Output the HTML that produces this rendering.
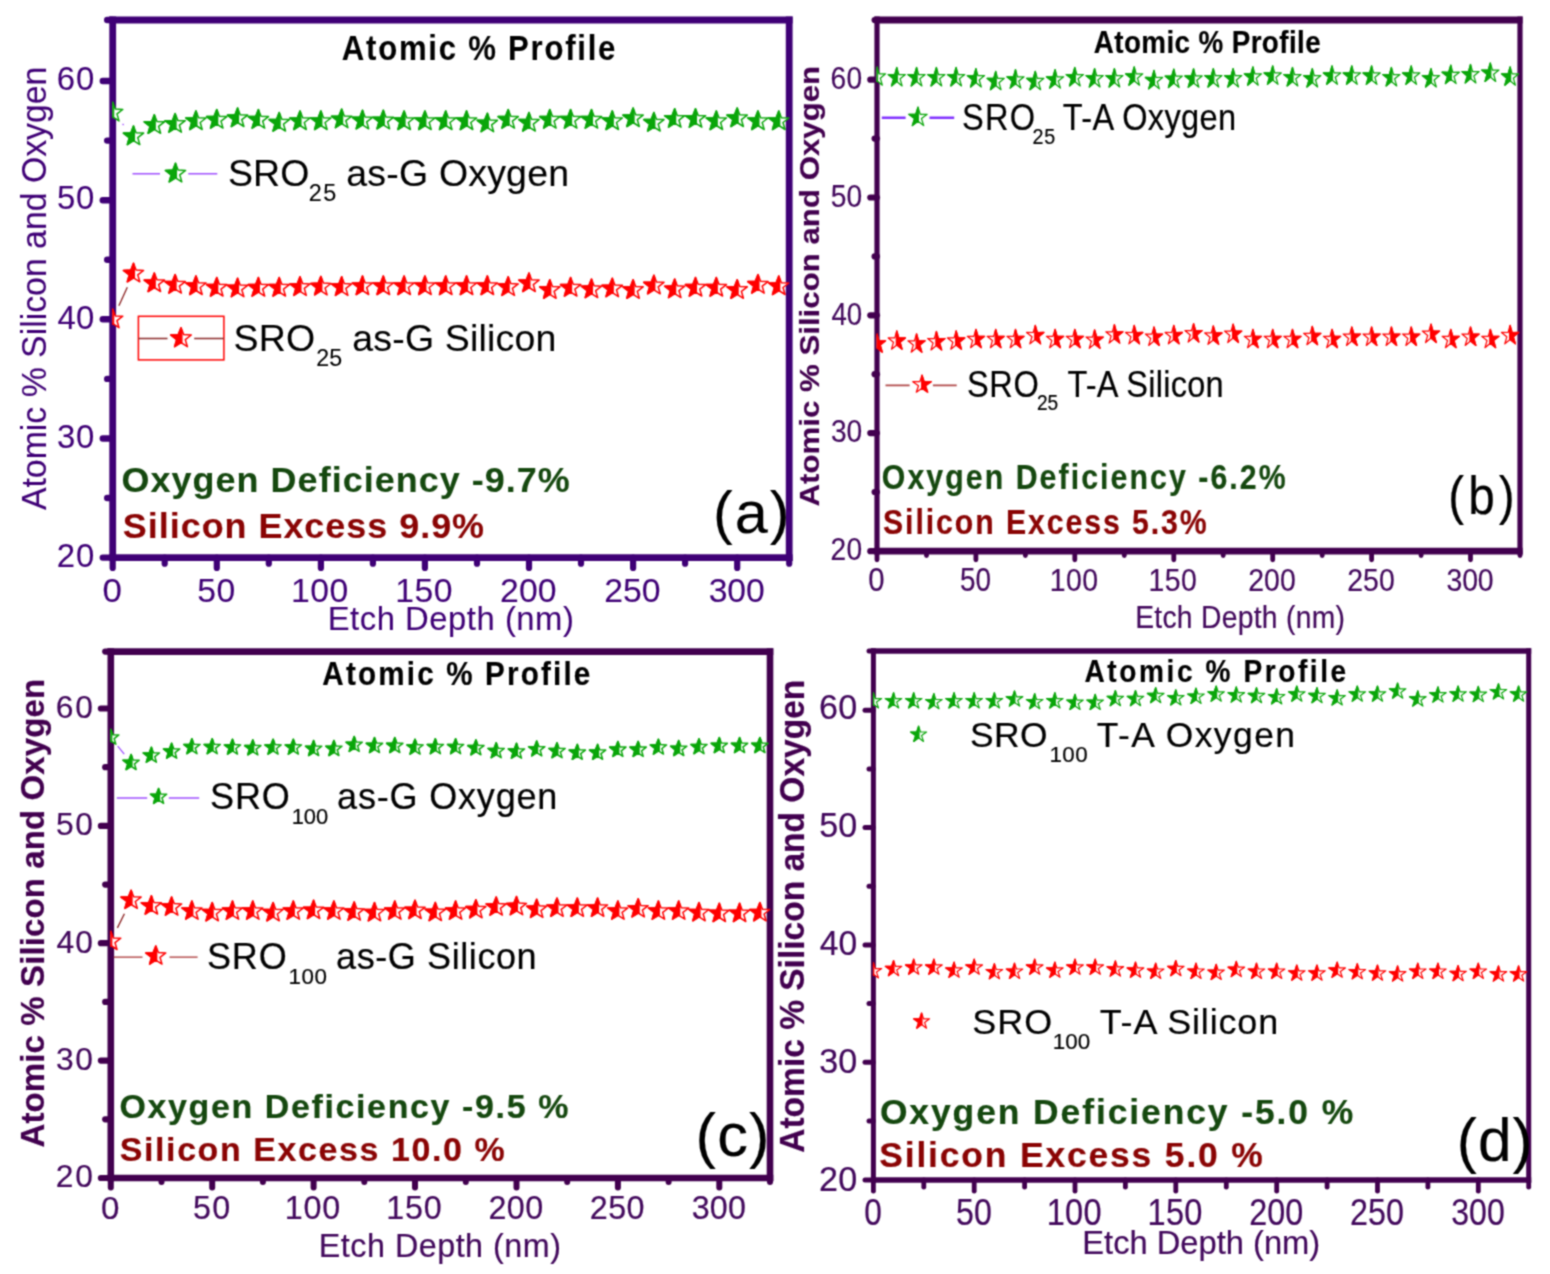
<!DOCTYPE html>
<html lang="en"><head><meta charset="utf-8"><title>Atomic % Profile</title>
<style>html,body{margin:0;padding:0;background:#fff;}body{width:1550px;height:1274px;overflow:hidden;}svg{display:block;}text{font-family:"Liberation Sans",sans-serif;white-space:pre;}</style>
</head><body>
<svg width="1550" height="1274" viewBox="0 0 1550 1274">
<defs><filter id="soft" x="0" y="0" width="1550" height="1274" filterUnits="userSpaceOnUse" color-interpolation-filters="sRGB"><feConvolveMatrix order="3" kernelMatrix="1 2 1 2 6 2 1 2 1" edgeMode="duplicate" preserveAlpha="true"/></filter></defs>
<g filter="url(#soft)">
<rect width="1550" height="1274" fill="#fff"/>
<g id="panel-a">
<g stroke="#3f0076" fill="none" stroke-linecap="round">
<line x1="112.7" y1="557.6" x2="102.8" y2="557.6" stroke-width="6.4"/>
<line x1="112.7" y1="498.0" x2="107.2" y2="498.0" stroke-width="6.4"/>
<line x1="112.7" y1="438.5" x2="102.8" y2="438.5" stroke-width="6.4"/>
<line x1="112.7" y1="378.9" x2="107.2" y2="378.9" stroke-width="6.4"/>
<line x1="112.7" y1="319.3" x2="102.8" y2="319.3" stroke-width="6.4"/>
<line x1="112.7" y1="259.7" x2="107.2" y2="259.7" stroke-width="6.4"/>
<line x1="112.7" y1="200.2" x2="102.8" y2="200.2" stroke-width="6.4"/>
<line x1="112.7" y1="140.6" x2="107.2" y2="140.6" stroke-width="6.4"/>
<line x1="112.7" y1="81.0" x2="102.8" y2="81.0" stroke-width="6.4"/>
<line x1="112.7" y1="20.0" x2="107.2" y2="20.0" stroke-width="6.4"/>
<line x1="112.7" y1="557.6" x2="112.7" y2="567.9" stroke-width="6.2"/>
<line x1="164.7" y1="557.6" x2="164.7" y2="563.7" stroke-width="6.2"/>
<line x1="216.8" y1="557.6" x2="216.8" y2="567.9" stroke-width="6.2"/>
<line x1="268.8" y1="557.6" x2="268.8" y2="563.7" stroke-width="6.2"/>
<line x1="320.9" y1="557.6" x2="320.9" y2="567.9" stroke-width="6.2"/>
<line x1="372.9" y1="557.6" x2="372.9" y2="563.7" stroke-width="6.2"/>
<line x1="424.9" y1="557.6" x2="424.9" y2="567.9" stroke-width="6.2"/>
<line x1="477.0" y1="557.6" x2="477.0" y2="563.7" stroke-width="6.2"/>
<line x1="529.0" y1="557.6" x2="529.0" y2="567.9" stroke-width="6.2"/>
<line x1="581.0" y1="557.6" x2="581.0" y2="563.7" stroke-width="6.2"/>
<line x1="633.1" y1="557.6" x2="633.1" y2="567.9" stroke-width="6.2"/>
<line x1="685.1" y1="557.6" x2="685.1" y2="563.7" stroke-width="6.2"/>
<line x1="737.2" y1="557.6" x2="737.2" y2="567.9" stroke-width="6.2"/>
<line x1="789.2" y1="557.6" x2="789.2" y2="563.7" stroke-width="6.2"/>
</g>
<g stroke="#3f0076" fill="none" stroke-linecap="butt">
<line x1="109.3" y1="20.0" x2="792.6" y2="20.0" stroke-width="6.8"/>
<line x1="109.3" y1="557.6" x2="792.6" y2="557.6" stroke-width="6.8"/>
<line x1="112.7" y1="16.6" x2="112.7" y2="561.0" stroke-width="6.8"/>
<line x1="789.2" y1="16.6" x2="789.2" y2="561.0" stroke-width="6.8"/>
</g>
<clipPath id="clip-a"><rect x="112.2" y="20.0" width="677.5" height="537.6"/></clipPath>
<g clip-path="url(#clip-a)">
<line x1="122.6" y1="123.9" x2="123.6" y2="125.0" stroke="#a050ff" stroke-width="1.3"/>
<path d="M112.7,102.3L115.3,109.1L122.8,109.4L117.0,113.9L119.0,120.9L112.7,116.9L106.4,120.9L108.4,113.9L102.6,109.4L110.1,109.1Z" fill="#fff" stroke="#0aa60a" stroke-width="1.50" stroke-linejoin="round"/><path d="M112.7,102.3L110.1,109.1L102.6,109.4L108.4,113.9L106.4,120.9L112.7,116.9L113.5,116.7L113.5,104.9Z" fill="#0aa60a" stroke="#0aa60a" stroke-width="1.50" stroke-linejoin="round"/>
<path d="M133.5,126.0L136.1,132.8L143.6,133.1L137.8,137.6L139.8,144.6L133.5,140.6L127.3,144.6L129.3,137.6L123.4,133.1L130.9,132.8Z" fill="#fff" stroke="#0aa60a" stroke-width="1.50" stroke-linejoin="round"/><path d="M133.5,126.0L130.9,132.8L123.4,133.1L129.3,137.6L127.3,144.6L133.5,140.6L134.3,140.4L134.3,128.6Z" fill="#0aa60a" stroke="#0aa60a" stroke-width="1.50" stroke-linejoin="round"/>
<path d="M154.3,114.8L157.0,121.5L164.5,121.8L158.6,126.3L160.6,133.3L154.3,129.3L148.1,133.3L150.1,126.3L144.2,121.8L151.7,121.5Z" fill="#fff" stroke="#0aa60a" stroke-width="1.50" stroke-linejoin="round"/><path d="M154.3,114.8L151.7,121.5L144.2,121.8L150.1,126.3L148.1,133.3L154.3,129.3L155.1,129.1L155.1,117.3Z" fill="#0aa60a" stroke="#0aa60a" stroke-width="1.50" stroke-linejoin="round"/>
<path d="M175.1,113.6L177.8,120.4L185.3,120.7L179.4,125.2L181.4,132.2L175.1,128.2L168.9,132.2L170.9,125.2L165.0,120.7L172.5,120.4Z" fill="#fff" stroke="#0aa60a" stroke-width="1.50" stroke-linejoin="round"/><path d="M175.1,113.6L172.5,120.4L165.0,120.7L170.9,125.2L168.9,132.2L175.1,128.2L175.9,128.0L175.9,116.2Z" fill="#0aa60a" stroke="#0aa60a" stroke-width="1.50" stroke-linejoin="round"/>
<path d="M196.0,110.9L198.6,117.7L206.1,118.0L200.2,122.5L202.2,129.5L196.0,125.5L189.7,129.5L191.7,122.5L185.8,118.0L193.3,117.7Z" fill="#fff" stroke="#0aa60a" stroke-width="1.50" stroke-linejoin="round"/><path d="M196.0,110.9L193.3,117.7L185.8,118.0L191.7,122.5L189.7,129.5L196.0,125.5L196.8,125.3L196.8,113.5Z" fill="#0aa60a" stroke="#0aa60a" stroke-width="1.50" stroke-linejoin="round"/>
<path d="M216.8,109.6L219.4,116.3L226.9,116.6L221.0,121.1L223.0,128.1L216.8,124.1L210.5,128.1L212.5,121.1L206.6,116.6L214.1,116.3Z" fill="#fff" stroke="#0aa60a" stroke-width="1.50" stroke-linejoin="round"/><path d="M216.8,109.6L214.1,116.3L206.6,116.6L212.5,121.1L210.5,128.1L216.8,124.1L217.6,123.9L217.6,112.1Z" fill="#0aa60a" stroke="#0aa60a" stroke-width="1.50" stroke-linejoin="round"/>
<path d="M237.6,108.0L240.2,114.8L247.7,115.1L241.8,119.6L243.9,126.5L237.6,122.5L231.3,126.5L233.3,119.6L227.5,115.1L235.0,114.8Z" fill="#fff" stroke="#0aa60a" stroke-width="1.50" stroke-linejoin="round"/><path d="M237.6,108.0L235.0,114.8L227.5,115.1L233.3,119.6L231.3,126.5L237.6,122.5L238.4,122.3L238.4,110.5Z" fill="#0aa60a" stroke="#0aa60a" stroke-width="1.50" stroke-linejoin="round"/>
<path d="M258.4,109.6L261.0,116.3L268.5,116.6L262.7,121.1L264.7,128.1L258.4,124.1L252.1,128.1L254.2,121.1L248.3,116.6L255.8,116.3Z" fill="#fff" stroke="#0aa60a" stroke-width="1.50" stroke-linejoin="round"/><path d="M258.4,109.6L255.8,116.3L248.3,116.6L254.2,121.1L252.1,128.1L258.4,124.1L259.2,123.9L259.2,112.1Z" fill="#0aa60a" stroke="#0aa60a" stroke-width="1.50" stroke-linejoin="round"/>
<path d="M279.2,112.5L281.9,119.3L289.4,119.6L283.5,124.1L285.5,131.0L279.2,127.1L273.0,131.0L275.0,124.1L269.1,119.6L276.6,119.3Z" fill="#fff" stroke="#0aa60a" stroke-width="1.50" stroke-linejoin="round"/><path d="M279.2,112.5L276.6,119.3L269.1,119.6L275.0,124.1L273.0,131.0L279.2,127.1L280.0,126.9L280.0,115.1Z" fill="#0aa60a" stroke="#0aa60a" stroke-width="1.50" stroke-linejoin="round"/>
<path d="M300.0,110.9L302.7,117.7L310.2,118.0L304.3,122.5L306.3,129.5L300.0,125.5L293.8,129.5L295.8,122.5L289.9,118.0L297.4,117.7Z" fill="#fff" stroke="#0aa60a" stroke-width="1.50" stroke-linejoin="round"/><path d="M300.0,110.9L297.4,117.7L289.9,118.0L295.8,122.5L293.8,129.5L300.0,125.5L300.8,125.3L300.8,113.5Z" fill="#0aa60a" stroke="#0aa60a" stroke-width="1.50" stroke-linejoin="round"/>
<path d="M320.9,110.9L323.5,117.7L331.0,118.0L325.1,122.5L327.1,129.5L320.9,125.5L314.6,129.5L316.6,122.5L310.7,118.0L318.2,117.7Z" fill="#fff" stroke="#0aa60a" stroke-width="1.50" stroke-linejoin="round"/><path d="M320.9,110.9L318.2,117.7L310.7,118.0L316.6,122.5L314.6,129.5L320.9,125.5L321.7,125.3L321.7,113.5Z" fill="#0aa60a" stroke="#0aa60a" stroke-width="1.50" stroke-linejoin="round"/>
<path d="M341.7,109.1L344.3,115.9L351.8,116.2L345.9,120.7L347.9,127.7L341.7,123.7L335.4,127.7L337.4,120.7L331.5,116.2L339.0,115.9Z" fill="#fff" stroke="#0aa60a" stroke-width="1.50" stroke-linejoin="round"/><path d="M341.7,109.1L339.0,115.9L331.5,116.2L337.4,120.7L335.4,127.7L341.7,123.7L342.5,123.5L342.5,111.7Z" fill="#0aa60a" stroke="#0aa60a" stroke-width="1.50" stroke-linejoin="round"/>
<path d="M362.5,110.2L365.1,117.0L372.6,117.3L366.7,121.8L368.7,128.8L362.5,124.8L356.2,128.8L358.2,121.8L352.4,117.3L359.9,117.0Z" fill="#fff" stroke="#0aa60a" stroke-width="1.50" stroke-linejoin="round"/><path d="M362.5,110.2L359.9,117.0L352.4,117.3L358.2,121.8L356.2,128.8L362.5,124.8L363.3,124.6L363.3,112.8Z" fill="#0aa60a" stroke="#0aa60a" stroke-width="1.50" stroke-linejoin="round"/>
<path d="M383.3,110.2L385.9,117.0L393.4,117.3L387.6,121.8L389.6,128.8L383.3,124.8L377.0,128.8L379.0,121.8L373.2,117.3L380.7,117.0Z" fill="#fff" stroke="#0aa60a" stroke-width="1.50" stroke-linejoin="round"/><path d="M383.3,110.2L380.7,117.0L373.2,117.3L379.0,121.8L377.0,128.8L383.3,124.8L384.1,124.6L384.1,112.8Z" fill="#0aa60a" stroke="#0aa60a" stroke-width="1.50" stroke-linejoin="round"/>
<path d="M404.1,110.9L406.7,117.7L414.2,118.0L408.4,122.5L410.4,129.5L404.1,125.5L397.9,129.5L399.9,122.5L394.0,118.0L401.5,117.7Z" fill="#fff" stroke="#0aa60a" stroke-width="1.50" stroke-linejoin="round"/><path d="M404.1,110.9L401.5,117.7L394.0,118.0L399.9,122.5L397.9,129.5L404.1,125.5L404.9,125.3L404.9,113.5Z" fill="#0aa60a" stroke="#0aa60a" stroke-width="1.50" stroke-linejoin="round"/>
<path d="M424.9,110.9L427.6,117.7L435.1,118.0L429.2,122.5L431.2,129.5L424.9,125.5L418.7,129.5L420.7,122.5L414.8,118.0L422.3,117.7Z" fill="#fff" stroke="#0aa60a" stroke-width="1.50" stroke-linejoin="round"/><path d="M424.9,110.9L422.3,117.7L414.8,118.0L420.7,122.5L418.7,129.5L424.9,125.5L425.7,125.3L425.7,113.5Z" fill="#0aa60a" stroke="#0aa60a" stroke-width="1.50" stroke-linejoin="round"/>
<path d="M445.7,110.9L448.4,117.7L455.9,118.0L450.0,122.5L452.0,129.5L445.7,125.5L439.5,129.5L441.5,122.5L435.6,118.0L443.1,117.7Z" fill="#fff" stroke="#0aa60a" stroke-width="1.50" stroke-linejoin="round"/><path d="M445.7,110.9L443.1,117.7L435.6,118.0L441.5,122.5L439.5,129.5L445.7,125.5L446.5,125.3L446.5,113.5Z" fill="#0aa60a" stroke="#0aa60a" stroke-width="1.50" stroke-linejoin="round"/>
<path d="M466.6,110.9L469.2,117.7L476.7,118.0L470.8,122.5L472.8,129.5L466.6,125.5L460.3,129.5L462.3,122.5L456.4,118.0L463.9,117.7Z" fill="#fff" stroke="#0aa60a" stroke-width="1.50" stroke-linejoin="round"/><path d="M466.6,110.9L463.9,117.7L456.4,118.0L462.3,122.5L460.3,129.5L466.6,125.5L467.4,125.3L467.4,113.5Z" fill="#0aa60a" stroke="#0aa60a" stroke-width="1.50" stroke-linejoin="round"/>
<path d="M487.4,113.2L490.0,119.9L497.5,120.3L491.6,124.8L493.6,131.7L487.4,127.7L481.1,131.7L483.1,124.8L477.2,120.3L484.7,119.9Z" fill="#fff" stroke="#0aa60a" stroke-width="1.50" stroke-linejoin="round"/><path d="M487.4,113.2L484.7,119.9L477.2,120.3L483.1,124.8L481.1,131.7L487.4,127.7L488.2,127.5L488.2,115.7Z" fill="#0aa60a" stroke="#0aa60a" stroke-width="1.50" stroke-linejoin="round"/>
<path d="M508.2,109.6L510.8,116.3L518.3,116.6L512.4,121.1L514.5,128.1L508.2,124.1L501.9,128.1L503.9,121.1L498.1,116.6L505.6,116.3Z" fill="#fff" stroke="#0aa60a" stroke-width="1.50" stroke-linejoin="round"/><path d="M508.2,109.6L505.6,116.3L498.1,116.6L503.9,121.1L501.9,128.1L508.2,124.1L509.0,123.9L509.0,112.1Z" fill="#0aa60a" stroke="#0aa60a" stroke-width="1.50" stroke-linejoin="round"/>
<path d="M529.0,112.5L531.6,119.3L539.1,119.6L533.3,124.1L535.3,131.0L529.0,127.1L522.7,131.0L524.8,124.1L518.9,119.6L526.4,119.3Z" fill="#fff" stroke="#0aa60a" stroke-width="1.50" stroke-linejoin="round"/><path d="M529.0,112.5L526.4,119.3L518.9,119.6L524.8,124.1L522.7,131.0L529.0,127.1L529.8,126.9L529.8,115.1Z" fill="#0aa60a" stroke="#0aa60a" stroke-width="1.50" stroke-linejoin="round"/>
<path d="M549.8,109.6L552.5,116.3L560.0,116.6L554.1,121.1L556.1,128.1L549.8,124.1L543.6,128.1L545.6,121.1L539.7,116.6L547.2,116.3Z" fill="#fff" stroke="#0aa60a" stroke-width="1.50" stroke-linejoin="round"/><path d="M549.8,109.6L547.2,116.3L539.7,116.6L545.6,121.1L543.6,128.1L549.8,124.1L550.6,123.9L550.6,112.1Z" fill="#0aa60a" stroke="#0aa60a" stroke-width="1.50" stroke-linejoin="round"/>
<path d="M570.6,109.6L573.3,116.3L580.8,116.6L574.9,121.1L576.9,128.1L570.6,124.1L564.4,128.1L566.4,121.1L560.5,116.6L568.0,116.3Z" fill="#fff" stroke="#0aa60a" stroke-width="1.50" stroke-linejoin="round"/><path d="M570.6,109.6L568.0,116.3L560.5,116.6L566.4,121.1L564.4,128.1L570.6,124.1L571.4,123.9L571.4,112.1Z" fill="#0aa60a" stroke="#0aa60a" stroke-width="1.50" stroke-linejoin="round"/>
<path d="M591.5,109.6L594.1,116.3L601.6,116.6L595.7,121.1L597.7,128.1L591.5,124.1L585.2,128.1L587.2,121.1L581.3,116.6L588.8,116.3Z" fill="#fff" stroke="#0aa60a" stroke-width="1.50" stroke-linejoin="round"/><path d="M591.5,109.6L588.8,116.3L581.3,116.6L587.2,121.1L585.2,128.1L591.5,124.1L592.3,123.9L592.3,112.1Z" fill="#0aa60a" stroke="#0aa60a" stroke-width="1.50" stroke-linejoin="round"/>
<path d="M612.3,110.9L614.9,117.7L622.4,118.0L616.5,122.5L618.5,129.5L612.3,125.5L606.0,129.5L608.0,122.5L602.1,118.0L609.6,117.7Z" fill="#fff" stroke="#0aa60a" stroke-width="1.50" stroke-linejoin="round"/><path d="M612.3,110.9L609.6,117.7L602.1,118.0L608.0,122.5L606.0,129.5L612.3,125.5L613.1,125.3L613.1,113.5Z" fill="#0aa60a" stroke="#0aa60a" stroke-width="1.50" stroke-linejoin="round"/>
<path d="M633.1,108.0L635.7,114.8L643.2,115.1L637.3,119.6L639.3,126.5L633.1,122.5L626.8,126.5L628.8,119.6L623.0,115.1L630.5,114.8Z" fill="#fff" stroke="#0aa60a" stroke-width="1.50" stroke-linejoin="round"/><path d="M633.1,108.0L630.5,114.8L623.0,115.1L628.8,119.6L626.8,126.5L633.1,122.5L633.9,122.3L633.9,110.5Z" fill="#0aa60a" stroke="#0aa60a" stroke-width="1.50" stroke-linejoin="round"/>
<path d="M653.9,112.5L656.5,119.3L664.0,119.6L658.2,124.1L660.2,131.0L653.9,127.1L647.6,131.0L649.6,124.1L643.8,119.6L651.3,119.3Z" fill="#fff" stroke="#0aa60a" stroke-width="1.50" stroke-linejoin="round"/><path d="M653.9,112.5L651.3,119.3L643.8,119.6L649.6,124.1L647.6,131.0L653.9,127.1L654.7,126.9L654.7,115.1Z" fill="#0aa60a" stroke="#0aa60a" stroke-width="1.50" stroke-linejoin="round"/>
<path d="M674.7,108.7L677.3,115.4L684.8,115.7L679.0,120.2L681.0,127.2L674.7,123.2L668.5,127.2L670.5,120.2L664.6,115.7L672.1,115.4Z" fill="#fff" stroke="#0aa60a" stroke-width="1.50" stroke-linejoin="round"/><path d="M674.7,108.7L672.1,115.4L664.6,115.7L670.5,120.2L668.5,127.2L674.7,123.2L675.5,123.0L675.5,111.2Z" fill="#0aa60a" stroke="#0aa60a" stroke-width="1.50" stroke-linejoin="round"/>
<path d="M695.5,108.7L698.2,115.4L705.7,115.7L699.8,120.2L701.8,127.2L695.5,123.2L689.3,127.2L691.3,120.2L685.4,115.7L692.9,115.4Z" fill="#fff" stroke="#0aa60a" stroke-width="1.50" stroke-linejoin="round"/><path d="M695.5,108.7L692.9,115.4L685.4,115.7L691.3,120.2L689.3,127.2L695.5,123.2L696.3,123.0L696.3,111.2Z" fill="#0aa60a" stroke="#0aa60a" stroke-width="1.50" stroke-linejoin="round"/>
<path d="M716.3,110.9L719.0,117.7L726.5,118.0L720.6,122.5L722.6,129.5L716.3,125.5L710.1,129.5L712.1,122.5L706.2,118.0L713.7,117.7Z" fill="#fff" stroke="#0aa60a" stroke-width="1.50" stroke-linejoin="round"/><path d="M716.3,110.9L713.7,117.7L706.2,118.0L712.1,122.5L710.1,129.5L716.3,125.5L717.1,125.3L717.1,113.5Z" fill="#0aa60a" stroke="#0aa60a" stroke-width="1.50" stroke-linejoin="round"/>
<path d="M737.2,108.0L739.8,114.8L747.3,115.1L741.4,119.6L743.4,126.5L737.2,122.5L730.9,126.5L732.9,119.6L727.0,115.1L734.5,114.8Z" fill="#fff" stroke="#0aa60a" stroke-width="1.50" stroke-linejoin="round"/><path d="M737.2,108.0L734.5,114.8L727.0,115.1L732.9,119.6L730.9,126.5L737.2,122.5L738.0,122.3L738.0,110.5Z" fill="#0aa60a" stroke="#0aa60a" stroke-width="1.50" stroke-linejoin="round"/>
<path d="M758.0,110.9L760.6,117.7L768.1,118.0L762.2,122.5L764.2,129.5L758.0,125.5L751.7,129.5L753.7,122.5L747.8,118.0L755.3,117.7Z" fill="#fff" stroke="#0aa60a" stroke-width="1.50" stroke-linejoin="round"/><path d="M758.0,110.9L755.3,117.7L747.8,118.0L753.7,122.5L751.7,129.5L758.0,125.5L758.8,125.3L758.8,113.5Z" fill="#0aa60a" stroke="#0aa60a" stroke-width="1.50" stroke-linejoin="round"/>
<path d="M778.8,110.9L781.4,117.7L788.9,118.0L783.0,122.5L785.1,129.5L778.8,125.5L772.5,129.5L774.5,122.5L768.7,118.0L776.2,117.7Z" fill="#fff" stroke="#0aa60a" stroke-width="1.50" stroke-linejoin="round"/><path d="M778.8,110.9L776.2,117.7L768.7,118.0L774.5,122.5L772.5,129.5L778.8,125.5L779.6,125.3L779.6,113.5Z" fill="#0aa60a" stroke="#0aa60a" stroke-width="1.50" stroke-linejoin="round"/>
<line x1="118.9" y1="305.7" x2="127.3" y2="287.2" stroke="#8a2020" stroke-width="1.3"/>
<path d="M112.7,309.1L115.3,315.9L122.8,316.2L117.0,320.7L119.0,327.7L112.7,323.7L106.4,327.7L108.4,320.7L102.6,316.2L110.1,315.9Z" fill="#fff" stroke="#ff0000" stroke-width="1.50" stroke-linejoin="round"/><path d="M112.7,309.1L110.1,315.9L102.6,316.2L108.4,320.7L106.4,327.7L112.7,323.7L113.5,323.5L113.5,311.7Z" fill="#ff0000" stroke="#ff0000" stroke-width="1.50" stroke-linejoin="round"/>
<path d="M133.5,263.3L136.1,270.0L143.6,270.4L137.8,274.9L139.8,281.8L133.5,277.8L127.3,281.8L129.3,274.9L123.4,270.4L130.9,270.0Z" fill="#fff" stroke="#ff0000" stroke-width="1.50" stroke-linejoin="round"/><path d="M133.5,263.3L130.9,270.0L123.4,270.4L129.3,274.9L127.3,281.8L133.5,277.8L134.3,277.6L134.3,265.8Z" fill="#ff0000" stroke="#ff0000" stroke-width="1.50" stroke-linejoin="round"/>
<path d="M154.3,273.0L157.0,279.8L164.5,280.1L158.6,284.6L160.6,291.5L154.3,287.5L148.1,291.5L150.1,284.6L144.2,280.1L151.7,279.8Z" fill="#fff" stroke="#ff0000" stroke-width="1.50" stroke-linejoin="round"/><path d="M154.3,273.0L151.7,279.8L144.2,280.1L150.1,284.6L148.1,291.5L154.3,287.5L155.1,287.3L155.1,275.5Z" fill="#ff0000" stroke="#ff0000" stroke-width="1.50" stroke-linejoin="round"/>
<path d="M175.1,274.6L177.8,281.3L185.3,281.6L179.4,286.1L181.4,293.1L175.1,289.1L168.9,293.1L170.9,286.1L165.0,281.6L172.5,281.3Z" fill="#fff" stroke="#ff0000" stroke-width="1.50" stroke-linejoin="round"/><path d="M175.1,274.6L172.5,281.3L165.0,281.6L170.9,286.1L168.9,293.1L175.1,289.1L175.9,288.9L175.9,277.1Z" fill="#ff0000" stroke="#ff0000" stroke-width="1.50" stroke-linejoin="round"/>
<path d="M196.0,275.9L198.6,282.7L206.1,283.0L200.2,287.5L202.2,294.5L196.0,290.5L189.7,294.5L191.7,287.5L185.8,283.0L193.3,282.7Z" fill="#fff" stroke="#ff0000" stroke-width="1.50" stroke-linejoin="round"/><path d="M196.0,275.9L193.3,282.7L185.8,283.0L191.7,287.5L189.7,294.5L196.0,290.5L196.8,290.3L196.8,278.5Z" fill="#ff0000" stroke="#ff0000" stroke-width="1.50" stroke-linejoin="round"/>
<path d="M216.8,277.5L219.4,284.3L226.9,284.6L221.0,289.1L223.0,296.0L216.8,292.1L210.5,296.0L212.5,289.1L206.6,284.6L214.1,284.3Z" fill="#fff" stroke="#ff0000" stroke-width="1.50" stroke-linejoin="round"/><path d="M216.8,277.5L214.1,284.3L206.6,284.6L212.5,289.1L210.5,296.0L216.8,292.1L217.6,291.9L217.6,280.1Z" fill="#ff0000" stroke="#ff0000" stroke-width="1.50" stroke-linejoin="round"/>
<path d="M237.6,278.2L240.2,284.9L247.7,285.3L241.8,289.8L243.9,296.7L237.6,292.7L231.3,296.7L233.3,289.8L227.5,285.3L235.0,284.9Z" fill="#fff" stroke="#ff0000" stroke-width="1.50" stroke-linejoin="round"/><path d="M237.6,278.2L235.0,284.9L227.5,285.3L233.3,289.8L231.3,296.7L237.6,292.7L238.4,292.5L238.4,280.7Z" fill="#ff0000" stroke="#ff0000" stroke-width="1.50" stroke-linejoin="round"/>
<path d="M258.4,277.5L261.0,284.3L268.5,284.6L262.7,289.1L264.7,296.0L258.4,292.1L252.1,296.0L254.2,289.1L248.3,284.6L255.8,284.3Z" fill="#fff" stroke="#ff0000" stroke-width="1.50" stroke-linejoin="round"/><path d="M258.4,277.5L255.8,284.3L248.3,284.6L254.2,289.1L252.1,296.0L258.4,292.1L259.2,291.9L259.2,280.1Z" fill="#ff0000" stroke="#ff0000" stroke-width="1.50" stroke-linejoin="round"/>
<path d="M279.2,277.5L281.9,284.3L289.4,284.6L283.5,289.1L285.5,296.0L279.2,292.1L273.0,296.0L275.0,289.1L269.1,284.6L276.6,284.3Z" fill="#fff" stroke="#ff0000" stroke-width="1.50" stroke-linejoin="round"/><path d="M279.2,277.5L276.6,284.3L269.1,284.6L275.0,289.1L273.0,296.0L279.2,292.1L280.0,291.9L280.0,280.1Z" fill="#ff0000" stroke="#ff0000" stroke-width="1.50" stroke-linejoin="round"/>
<path d="M300.0,276.8L302.7,283.6L310.2,283.9L304.3,288.4L306.3,295.4L300.0,291.4L293.8,295.4L295.8,288.4L289.9,283.9L297.4,283.6Z" fill="#fff" stroke="#ff0000" stroke-width="1.50" stroke-linejoin="round"/><path d="M300.0,276.8L297.4,283.6L289.9,283.9L295.8,288.4L293.8,295.4L300.0,291.4L300.8,291.2L300.8,279.4Z" fill="#ff0000" stroke="#ff0000" stroke-width="1.50" stroke-linejoin="round"/>
<path d="M320.9,276.4L323.5,283.1L331.0,283.5L325.1,288.0L327.1,294.9L320.9,290.9L314.6,294.9L316.6,288.0L310.7,283.5L318.2,283.1Z" fill="#fff" stroke="#ff0000" stroke-width="1.50" stroke-linejoin="round"/><path d="M320.9,276.4L318.2,283.1L310.7,283.5L316.6,288.0L314.6,294.9L320.9,290.9L321.7,290.7L321.7,278.9Z" fill="#ff0000" stroke="#ff0000" stroke-width="1.50" stroke-linejoin="round"/>
<path d="M341.7,276.8L344.3,283.6L351.8,283.9L345.9,288.4L347.9,295.4L341.7,291.4L335.4,295.4L337.4,288.4L331.5,283.9L339.0,283.6Z" fill="#fff" stroke="#ff0000" stroke-width="1.50" stroke-linejoin="round"/><path d="M341.7,276.8L339.0,283.6L331.5,283.9L337.4,288.4L335.4,295.4L341.7,291.4L342.5,291.2L342.5,279.4Z" fill="#ff0000" stroke="#ff0000" stroke-width="1.50" stroke-linejoin="round"/>
<path d="M362.5,275.9L365.1,282.7L372.6,283.0L366.7,287.5L368.7,294.5L362.5,290.5L356.2,294.5L358.2,287.5L352.4,283.0L359.9,282.7Z" fill="#fff" stroke="#ff0000" stroke-width="1.50" stroke-linejoin="round"/><path d="M362.5,275.9L359.9,282.7L352.4,283.0L358.2,287.5L356.2,294.5L362.5,290.5L363.3,290.3L363.3,278.5Z" fill="#ff0000" stroke="#ff0000" stroke-width="1.50" stroke-linejoin="round"/>
<path d="M383.3,275.9L385.9,282.7L393.4,283.0L387.6,287.5L389.6,294.5L383.3,290.5L377.0,294.5L379.0,287.5L373.2,283.0L380.7,282.7Z" fill="#fff" stroke="#ff0000" stroke-width="1.50" stroke-linejoin="round"/><path d="M383.3,275.9L380.7,282.7L373.2,283.0L379.0,287.5L377.0,294.5L383.3,290.5L384.1,290.3L384.1,278.5Z" fill="#ff0000" stroke="#ff0000" stroke-width="1.50" stroke-linejoin="round"/>
<path d="M404.1,275.9L406.7,282.7L414.2,283.0L408.4,287.5L410.4,294.5L404.1,290.5L397.9,294.5L399.9,287.5L394.0,283.0L401.5,282.7Z" fill="#fff" stroke="#ff0000" stroke-width="1.50" stroke-linejoin="round"/><path d="M404.1,275.9L401.5,282.7L394.0,283.0L399.9,287.5L397.9,294.5L404.1,290.5L404.9,290.3L404.9,278.5Z" fill="#ff0000" stroke="#ff0000" stroke-width="1.50" stroke-linejoin="round"/>
<path d="M424.9,275.9L427.6,282.7L435.1,283.0L429.2,287.5L431.2,294.5L424.9,290.5L418.7,294.5L420.7,287.5L414.8,283.0L422.3,282.7Z" fill="#fff" stroke="#ff0000" stroke-width="1.50" stroke-linejoin="round"/><path d="M424.9,275.9L422.3,282.7L414.8,283.0L420.7,287.5L418.7,294.5L424.9,290.5L425.7,290.3L425.7,278.5Z" fill="#ff0000" stroke="#ff0000" stroke-width="1.50" stroke-linejoin="round"/>
<path d="M445.7,275.9L448.4,282.7L455.9,283.0L450.0,287.5L452.0,294.5L445.7,290.5L439.5,294.5L441.5,287.5L435.6,283.0L443.1,282.7Z" fill="#fff" stroke="#ff0000" stroke-width="1.50" stroke-linejoin="round"/><path d="M445.7,275.9L443.1,282.7L435.6,283.0L441.5,287.5L439.5,294.5L445.7,290.5L446.5,290.3L446.5,278.5Z" fill="#ff0000" stroke="#ff0000" stroke-width="1.50" stroke-linejoin="round"/>
<path d="M466.6,275.9L469.2,282.7L476.7,283.0L470.8,287.5L472.8,294.5L466.6,290.5L460.3,294.5L462.3,287.5L456.4,283.0L463.9,282.7Z" fill="#fff" stroke="#ff0000" stroke-width="1.50" stroke-linejoin="round"/><path d="M466.6,275.9L463.9,282.7L456.4,283.0L462.3,287.5L460.3,294.5L466.6,290.5L467.4,290.3L467.4,278.5Z" fill="#ff0000" stroke="#ff0000" stroke-width="1.50" stroke-linejoin="round"/>
<path d="M487.4,275.9L490.0,282.7L497.5,283.0L491.6,287.5L493.6,294.5L487.4,290.5L481.1,294.5L483.1,287.5L477.2,283.0L484.7,282.7Z" fill="#fff" stroke="#ff0000" stroke-width="1.50" stroke-linejoin="round"/><path d="M487.4,275.9L484.7,282.7L477.2,283.0L483.1,287.5L481.1,294.5L487.4,290.5L488.2,290.3L488.2,278.5Z" fill="#ff0000" stroke="#ff0000" stroke-width="1.50" stroke-linejoin="round"/>
<path d="M508.2,276.8L510.8,283.6L518.3,283.9L512.4,288.4L514.5,295.4L508.2,291.4L501.9,295.4L503.9,288.4L498.1,283.9L505.6,283.6Z" fill="#fff" stroke="#ff0000" stroke-width="1.50" stroke-linejoin="round"/><path d="M508.2,276.8L505.6,283.6L498.1,283.9L503.9,288.4L501.9,295.4L508.2,291.4L509.0,291.2L509.0,279.4Z" fill="#ff0000" stroke="#ff0000" stroke-width="1.50" stroke-linejoin="round"/>
<path d="M529.0,273.0L531.6,279.8L539.1,280.1L533.3,284.6L535.3,291.5L529.0,287.5L522.7,291.5L524.8,284.6L518.9,280.1L526.4,279.8Z" fill="#fff" stroke="#ff0000" stroke-width="1.50" stroke-linejoin="round"/><path d="M529.0,273.0L526.4,279.8L518.9,280.1L524.8,284.6L522.7,291.5L529.0,287.5L529.8,287.3L529.8,275.5Z" fill="#ff0000" stroke="#ff0000" stroke-width="1.50" stroke-linejoin="round"/>
<path d="M549.8,279.8L552.5,286.5L560.0,286.8L554.1,291.3L556.1,298.3L549.8,294.3L543.6,298.3L545.6,291.3L539.7,286.8L547.2,286.5Z" fill="#fff" stroke="#ff0000" stroke-width="1.50" stroke-linejoin="round"/><path d="M549.8,279.8L547.2,286.5L539.7,286.8L545.6,291.3L543.6,298.3L549.8,294.3L550.6,294.1L550.6,282.3Z" fill="#ff0000" stroke="#ff0000" stroke-width="1.50" stroke-linejoin="round"/>
<path d="M570.6,277.5L573.3,284.3L580.8,284.6L574.9,289.1L576.9,296.0L570.6,292.1L564.4,296.0L566.4,289.1L560.5,284.6L568.0,284.3Z" fill="#fff" stroke="#ff0000" stroke-width="1.50" stroke-linejoin="round"/><path d="M570.6,277.5L568.0,284.3L560.5,284.6L566.4,289.1L564.4,296.0L570.6,292.1L571.4,291.9L571.4,280.1Z" fill="#ff0000" stroke="#ff0000" stroke-width="1.50" stroke-linejoin="round"/>
<path d="M591.5,279.1L594.1,285.8L601.6,286.2L595.7,290.7L597.7,297.6L591.5,293.6L585.2,297.6L587.2,290.7L581.3,286.2L588.8,285.8Z" fill="#fff" stroke="#ff0000" stroke-width="1.50" stroke-linejoin="round"/><path d="M591.5,279.1L588.8,285.8L581.3,286.2L587.2,290.7L585.2,297.6L591.5,293.6L592.3,293.4L592.3,281.6Z" fill="#ff0000" stroke="#ff0000" stroke-width="1.50" stroke-linejoin="round"/>
<path d="M612.3,278.2L614.9,284.9L622.4,285.3L616.5,289.8L618.5,296.7L612.3,292.7L606.0,296.7L608.0,289.8L602.1,285.3L609.6,284.9Z" fill="#fff" stroke="#ff0000" stroke-width="1.50" stroke-linejoin="round"/><path d="M612.3,278.2L609.6,284.9L602.1,285.3L608.0,289.8L606.0,296.7L612.3,292.7L613.1,292.5L613.1,280.7Z" fill="#ff0000" stroke="#ff0000" stroke-width="1.50" stroke-linejoin="round"/>
<path d="M633.1,279.8L635.7,286.5L643.2,286.8L637.3,291.3L639.3,298.3L633.1,294.3L626.8,298.3L628.8,291.3L623.0,286.8L630.5,286.5Z" fill="#fff" stroke="#ff0000" stroke-width="1.50" stroke-linejoin="round"/><path d="M633.1,279.8L630.5,286.5L623.0,286.8L628.8,291.3L626.8,298.3L633.1,294.3L633.9,294.1L633.9,282.3Z" fill="#ff0000" stroke="#ff0000" stroke-width="1.50" stroke-linejoin="round"/>
<path d="M653.9,275.2L656.5,282.0L664.0,282.3L658.2,286.8L660.2,293.8L653.9,289.8L647.6,293.8L649.6,286.8L643.8,282.3L651.3,282.0Z" fill="#fff" stroke="#ff0000" stroke-width="1.50" stroke-linejoin="round"/><path d="M653.9,275.2L651.3,282.0L643.8,282.3L649.6,286.8L647.6,293.8L653.9,289.8L654.7,289.6L654.7,277.8Z" fill="#ff0000" stroke="#ff0000" stroke-width="1.50" stroke-linejoin="round"/>
<path d="M674.7,279.1L677.3,285.8L684.8,286.2L679.0,290.7L681.0,297.6L674.7,293.6L668.5,297.6L670.5,290.7L664.6,286.2L672.1,285.8Z" fill="#fff" stroke="#ff0000" stroke-width="1.50" stroke-linejoin="round"/><path d="M674.7,279.1L672.1,285.8L664.6,286.2L670.5,290.7L668.5,297.6L674.7,293.6L675.5,293.4L675.5,281.6Z" fill="#ff0000" stroke="#ff0000" stroke-width="1.50" stroke-linejoin="round"/>
<path d="M695.5,277.5L698.2,284.3L705.7,284.6L699.8,289.1L701.8,296.0L695.5,292.1L689.3,296.0L691.3,289.1L685.4,284.6L692.9,284.3Z" fill="#fff" stroke="#ff0000" stroke-width="1.50" stroke-linejoin="round"/><path d="M695.5,277.5L692.9,284.3L685.4,284.6L691.3,289.1L689.3,296.0L695.5,292.1L696.3,291.9L696.3,280.1Z" fill="#ff0000" stroke="#ff0000" stroke-width="1.50" stroke-linejoin="round"/>
<path d="M716.3,277.5L719.0,284.3L726.5,284.6L720.6,289.1L722.6,296.0L716.3,292.1L710.1,296.0L712.1,289.1L706.2,284.6L713.7,284.3Z" fill="#fff" stroke="#ff0000" stroke-width="1.50" stroke-linejoin="round"/><path d="M716.3,277.5L713.7,284.3L706.2,284.6L712.1,289.1L710.1,296.0L716.3,292.1L717.1,291.9L717.1,280.1Z" fill="#ff0000" stroke="#ff0000" stroke-width="1.50" stroke-linejoin="round"/>
<path d="M737.2,279.8L739.8,286.5L747.3,286.8L741.4,291.3L743.4,298.3L737.2,294.3L730.9,298.3L732.9,291.3L727.0,286.8L734.5,286.5Z" fill="#fff" stroke="#ff0000" stroke-width="1.50" stroke-linejoin="round"/><path d="M737.2,279.8L734.5,286.5L727.0,286.8L732.9,291.3L730.9,298.3L737.2,294.3L738.0,294.1L738.0,282.3Z" fill="#ff0000" stroke="#ff0000" stroke-width="1.50" stroke-linejoin="round"/>
<path d="M758.0,274.6L760.6,281.3L768.1,281.6L762.2,286.1L764.2,293.1L758.0,289.1L751.7,293.1L753.7,286.1L747.8,281.6L755.3,281.3Z" fill="#fff" stroke="#ff0000" stroke-width="1.50" stroke-linejoin="round"/><path d="M758.0,274.6L755.3,281.3L747.8,281.6L753.7,286.1L751.7,293.1L758.0,289.1L758.8,288.9L758.8,277.1Z" fill="#ff0000" stroke="#ff0000" stroke-width="1.50" stroke-linejoin="round"/>
<path d="M778.8,275.9L781.4,282.7L788.9,283.0L783.0,287.5L785.1,294.5L778.8,290.5L772.5,294.5L774.5,287.5L768.7,283.0L776.2,282.7Z" fill="#fff" stroke="#ff0000" stroke-width="1.50" stroke-linejoin="round"/><path d="M778.8,275.9L776.2,282.7L768.7,283.0L774.5,287.5L772.5,294.5L778.8,290.5L779.6,290.3L779.6,278.5Z" fill="#ff0000" stroke="#ff0000" stroke-width="1.50" stroke-linejoin="round"/>
</g>
<text transform="translate(56.65 566.90)" font-size="32.91" fill="#3f0076" stroke="#3f0076" stroke-width="0.10" letter-spacing="0.948">20</text>
<text transform="translate(57.07 447.75)" font-size="32.91" fill="#3f0076" stroke="#3f0076" stroke-width="0.10" letter-spacing="0.537">30</text>
<text transform="translate(57.56 328.60)" font-size="32.91" fill="#3f0076" stroke="#3f0076" stroke-width="0.10" letter-spacing="0.043">40</text>
<text transform="translate(56.98 209.45)" font-size="32.91" fill="#3f0076" stroke="#3f0076" stroke-width="0.10" letter-spacing="0.619">50</text>
<text transform="translate(56.65 90.30)" font-size="32.91" fill="#3f0076" stroke="#3f0076" stroke-width="0.10" letter-spacing="0.948">60</text>
<text transform="translate(102.45 601.60) scale(1.0364 1)" font-size="33.74" fill="#3f0076" stroke="#3f0076" stroke-width="0.10">0</text>
<text transform="translate(197.18 601.60)" font-size="33.74" fill="#3f0076" stroke="#3f0076" stroke-width="0.10" letter-spacing="0.659">50</text>
<text transform="translate(291.07 601.60)" font-size="33.74" fill="#3f0076" stroke="#3f0076" stroke-width="0.10" letter-spacing="0.514">100</text>
<text transform="translate(395.15 601.60)" font-size="33.74" fill="#3f0076" stroke="#3f0076" stroke-width="0.10" letter-spacing="0.514">150</text>
<text transform="translate(500.07 601.60)" font-size="33.74" fill="#3f0076" stroke="#3f0076" stroke-width="0.10" letter-spacing="0.092">200</text>
<text transform="translate(604.15 601.60)" font-size="33.74" fill="#3f0076" stroke="#3f0076" stroke-width="0.10" letter-spacing="0.092">250</text>
<text transform="translate(708.65 601.60)" font-size="33.74" fill="#3f0076" stroke="#3f0076" stroke-width="0.10" letter-spacing="-0.119">300</text>
<text transform="translate(45.60 510.08) rotate(-90) scale(0.9782 1.0000)" font-size="34.58" fill="#3f0076" stroke="#3f0076" stroke-width="0.10">Atomic % Silicon and Oxygen</text>
<text transform="translate(341.82 59.70) scale(0.9000 1)" font-size="34.58" fill="#000000" stroke="#000000" stroke-width="0.10" font-weight="bold" letter-spacing="1.959">Atomic % Profile</text>
<text transform="translate(327.69 630.00)" font-size="32.81" fill="#3f0076" stroke="#3f0076" stroke-width="0.10" letter-spacing="0.530">Etch Depth (nm)</text>
<text transform="translate(228.11 185.70)" font-size="37.49" fill="#000000" stroke="#000000" stroke-width="0.10">SRO</text>
<text transform="translate(308.83 200.60)" font-size="23.43" fill="#000000" stroke="#000000" stroke-width="0.10" letter-spacing="1.298">25</text>
<text transform="translate(346.31 185.70)" font-size="37.49" fill="#000000" stroke="#000000" stroke-width="0.10" letter-spacing="0.189">as-G Oxygen</text>
<text transform="translate(233.41 351.00)" font-size="37.49" fill="#000000" stroke="#000000" stroke-width="0.10" letter-spacing="0.300">SRO</text>
<text transform="translate(316.24 365.60) scale(0.9915 1)" font-size="23.43" fill="#000000" stroke="#000000" stroke-width="0.10">25</text>
<text transform="translate(352.31 351.00)" font-size="37.49" fill="#000000" stroke="#000000" stroke-width="0.10" letter-spacing="0.176">as-G Silicon</text>
<text transform="translate(121.56 491.50)" font-size="35.93" fill="#15480f" stroke="#15480f" stroke-width="0.10" font-weight="bold" letter-spacing="1.045">Oxygen Deficiency -9.7%</text>
<text transform="translate(122.82 538.40)" font-size="35.93" fill="#8a0404" stroke="#8a0404" stroke-width="0.10" font-weight="bold" letter-spacing="0.987">Silicon Excess 9.9%</text>
<text transform="translate(712.89 533.00)" font-size="59.37" fill="#000000" stroke="#000000" stroke-width="0.10" letter-spacing="2.000">(a)</text>
<path d="M132.5,173.8H160.0M188.3,173.8H217.3" fill="none" stroke="#a050ff" stroke-width="1.6"/>
<path d="M175.5,163.3L178.1,170.1L185.6,170.4L179.8,174.9L181.8,181.9L175.5,177.9L169.2,181.9L171.2,174.9L165.4,170.4L172.9,170.1Z" fill="#fff" stroke="#0aa60a" stroke-width="1.50" stroke-linejoin="round"/><path d="M175.5,163.3L172.9,170.1L165.4,170.4L171.2,174.9L169.2,181.9L175.5,177.9L176.3,177.7L176.3,165.9Z" fill="#0aa60a" stroke="#0aa60a" stroke-width="1.50" stroke-linejoin="round"/>
<rect x="138.4" y="316.3" width="85.5" height="43.6" fill="none" stroke="#ff0000" stroke-width="1.5"/>
<path d="M138.4,338.5H167.5M194.2,338.5H223.9" fill="none" stroke="#8a2a2a" stroke-width="1.5"/>
<path d="M181.0,327.8L183.7,334.6L191.3,335.0L185.3,339.6L187.4,346.7L181.0,342.6L174.6,346.7L176.7,339.6L170.7,335.0L178.3,334.6Z" fill="#fff" stroke="#ff0000" stroke-width="1.50" stroke-linejoin="round"/><path d="M181.0,327.8L178.3,334.6L170.7,335.0L176.7,339.6L174.6,346.7L181.0,342.6L181.8,342.4L181.8,330.4Z" fill="#ff0000" stroke="#ff0000" stroke-width="1.50" stroke-linejoin="round"/>
</g>
<g id="panel-b">
<g stroke="#42004f" fill="none" stroke-linecap="round">
<line x1="877.0" y1="551.2" x2="870.3" y2="551.2" stroke-width="6.2"/>
<line x1="877.0" y1="492.0" x2="874.6" y2="492.0" stroke-width="6.2"/>
<line x1="877.0" y1="433.1" x2="870.3" y2="433.1" stroke-width="6.2"/>
<line x1="877.0" y1="374.2" x2="874.6" y2="374.2" stroke-width="6.2"/>
<line x1="877.0" y1="315.3" x2="870.3" y2="315.3" stroke-width="6.2"/>
<line x1="877.0" y1="256.4" x2="874.6" y2="256.4" stroke-width="6.2"/>
<line x1="877.0" y1="197.5" x2="870.3" y2="197.5" stroke-width="6.2"/>
<line x1="877.0" y1="138.6" x2="874.6" y2="138.6" stroke-width="6.2"/>
<line x1="877.0" y1="79.7" x2="870.3" y2="79.7" stroke-width="6.2"/>
<line x1="877.0" y1="20.0" x2="874.6" y2="20.0" stroke-width="6.2"/>
<line x1="877.0" y1="551.2" x2="877.0" y2="559.8" stroke-width="4.8"/>
<line x1="926.5" y1="551.2" x2="926.5" y2="555.6" stroke-width="4.8"/>
<line x1="975.9" y1="551.2" x2="975.9" y2="559.8" stroke-width="4.8"/>
<line x1="1025.4" y1="551.2" x2="1025.4" y2="555.6" stroke-width="4.8"/>
<line x1="1074.8" y1="551.2" x2="1074.8" y2="559.8" stroke-width="4.8"/>
<line x1="1124.3" y1="551.2" x2="1124.3" y2="555.6" stroke-width="4.8"/>
<line x1="1173.8" y1="551.2" x2="1173.8" y2="559.8" stroke-width="4.8"/>
<line x1="1223.2" y1="551.2" x2="1223.2" y2="555.6" stroke-width="4.8"/>
<line x1="1272.7" y1="551.2" x2="1272.7" y2="559.8" stroke-width="4.8"/>
<line x1="1322.2" y1="551.2" x2="1322.2" y2="555.6" stroke-width="4.8"/>
<line x1="1371.6" y1="551.2" x2="1371.6" y2="559.8" stroke-width="4.8"/>
<line x1="1421.1" y1="551.2" x2="1421.1" y2="555.6" stroke-width="4.8"/>
<line x1="1470.5" y1="551.2" x2="1470.5" y2="559.8" stroke-width="4.8"/>
<line x1="1520.0" y1="551.2" x2="1520.0" y2="555.6" stroke-width="4.8"/>
</g>
<g stroke="#42004f" fill="none" stroke-linecap="butt">
<line x1="874.4" y1="20.0" x2="1522.6" y2="20.0" stroke-width="6.8"/>
<line x1="874.4" y1="551.2" x2="1522.6" y2="551.2" stroke-width="6.8"/>
<line x1="877.0" y1="16.6" x2="877.0" y2="554.6" stroke-width="5.2"/>
<line x1="1520.0" y1="16.6" x2="1520.0" y2="554.6" stroke-width="5.2"/>
</g>
<clipPath id="clip-b"><rect x="876.5" y="20.0" width="644.0" height="531.2"/></clipPath>
<g clip-path="url(#clip-b)">
<path d="M877.0,66.8L879.0,73.8L885.6,73.8L880.3,78.2L882.3,85.2L877.0,80.8L871.7,85.2L873.7,78.2L868.4,73.8L875.0,73.8Z" fill="#fff" stroke="#0aa60a" stroke-width="1.25" stroke-linejoin="round"/><path d="M877.0,66.8L875.0,73.8L868.4,73.8L873.7,78.2L871.7,85.2L877.0,80.8L877.5,80.6L877.5,69.3Z" fill="#0aa60a" stroke="#0aa60a" stroke-width="1.25" stroke-linejoin="round"/>
<path d="M896.8,67.5L898.8,74.5L905.4,74.5L900.1,78.8L902.1,85.9L896.8,81.5L891.5,85.9L893.5,78.8L888.2,74.5L894.8,74.5Z" fill="#fff" stroke="#0aa60a" stroke-width="1.25" stroke-linejoin="round"/><path d="M896.8,67.5L894.8,74.5L888.2,74.5L893.5,78.8L891.5,85.9L896.8,81.5L897.3,81.3L897.3,70.0Z" fill="#0aa60a" stroke="#0aa60a" stroke-width="1.25" stroke-linejoin="round"/>
<path d="M916.6,67.5L918.6,74.5L925.2,74.5L919.8,78.8L921.9,85.9L916.6,81.5L911.2,85.9L913.3,78.8L907.9,74.5L914.5,74.5Z" fill="#fff" stroke="#0aa60a" stroke-width="1.25" stroke-linejoin="round"/><path d="M916.6,67.5L914.5,74.5L907.9,74.5L913.3,78.8L911.2,85.9L916.6,81.5L917.1,81.3L917.1,70.0Z" fill="#0aa60a" stroke="#0aa60a" stroke-width="1.25" stroke-linejoin="round"/>
<path d="M936.4,67.5L938.4,74.5L945.0,74.5L939.6,78.8L941.7,85.9L936.4,81.5L931.0,85.9L933.1,78.8L927.7,74.5L934.3,74.5Z" fill="#fff" stroke="#0aa60a" stroke-width="1.25" stroke-linejoin="round"/><path d="M936.4,67.5L934.3,74.5L927.7,74.5L933.1,78.8L931.0,85.9L936.4,81.5L936.9,81.3L936.9,70.0Z" fill="#0aa60a" stroke="#0aa60a" stroke-width="1.25" stroke-linejoin="round"/>
<path d="M956.1,67.5L958.2,74.5L964.8,74.5L959.4,78.8L961.5,85.9L956.1,81.5L950.8,85.9L952.9,78.8L947.5,74.5L954.1,74.5Z" fill="#fff" stroke="#0aa60a" stroke-width="1.25" stroke-linejoin="round"/><path d="M956.1,67.5L954.1,74.5L947.5,74.5L952.9,78.8L950.8,85.9L956.1,81.5L956.6,81.3L956.6,70.0Z" fill="#0aa60a" stroke="#0aa60a" stroke-width="1.25" stroke-linejoin="round"/>
<path d="M975.9,68.6L978.0,75.7L984.6,75.6L979.2,80.0L981.3,87.0L975.9,82.6L970.6,87.0L972.6,80.0L967.3,75.6L973.9,75.7Z" fill="#fff" stroke="#0aa60a" stroke-width="1.25" stroke-linejoin="round"/><path d="M975.9,68.6L973.9,75.7L967.3,75.6L972.6,80.0L970.6,87.0L975.9,82.6L976.4,82.4L976.4,71.1Z" fill="#0aa60a" stroke="#0aa60a" stroke-width="1.25" stroke-linejoin="round"/>
<path d="M995.7,71.3L997.7,78.4L1004.3,78.3L999.0,82.7L1001.0,89.7L995.7,85.4L990.4,89.7L992.4,82.7L987.1,78.3L993.7,78.4Z" fill="#fff" stroke="#0aa60a" stroke-width="1.25" stroke-linejoin="round"/><path d="M995.7,71.3L993.7,78.4L987.1,78.3L992.4,82.7L990.4,89.7L995.7,85.4L996.2,85.2L996.2,73.9Z" fill="#0aa60a" stroke="#0aa60a" stroke-width="1.25" stroke-linejoin="round"/>
<path d="M1015.5,69.7L1017.5,76.8L1024.1,76.8L1018.8,81.1L1020.8,88.1L1015.5,83.8L1010.2,88.1L1012.2,81.1L1006.9,76.8L1013.5,76.8Z" fill="#fff" stroke="#0aa60a" stroke-width="1.25" stroke-linejoin="round"/><path d="M1015.5,69.7L1013.5,76.8L1006.9,76.8L1012.2,81.1L1010.2,88.1L1015.5,83.8L1016.0,83.6L1016.0,72.3Z" fill="#0aa60a" stroke="#0aa60a" stroke-width="1.25" stroke-linejoin="round"/>
<path d="M1035.3,71.3L1037.3,78.4L1043.9,78.3L1038.6,82.7L1040.6,89.7L1035.3,85.4L1029.9,89.7L1032.0,82.7L1026.6,78.3L1033.2,78.4Z" fill="#fff" stroke="#0aa60a" stroke-width="1.25" stroke-linejoin="round"/><path d="M1035.3,71.3L1033.2,78.4L1026.6,78.3L1032.0,82.7L1029.9,89.7L1035.3,85.4L1035.8,85.2L1035.8,73.9Z" fill="#0aa60a" stroke="#0aa60a" stroke-width="1.25" stroke-linejoin="round"/>
<path d="M1055.1,69.7L1057.1,76.8L1063.7,76.8L1058.3,81.1L1060.4,88.1L1055.1,83.8L1049.7,88.1L1051.8,81.1L1046.4,76.8L1053.0,76.8Z" fill="#fff" stroke="#0aa60a" stroke-width="1.25" stroke-linejoin="round"/><path d="M1055.1,69.7L1053.0,76.8L1046.4,76.8L1051.8,81.1L1049.7,88.1L1055.1,83.8L1055.6,83.6L1055.6,72.3Z" fill="#0aa60a" stroke="#0aa60a" stroke-width="1.25" stroke-linejoin="round"/>
<path d="M1074.8,67.5L1076.9,74.5L1083.5,74.5L1078.1,78.8L1080.2,85.9L1074.8,81.5L1069.5,85.9L1071.6,78.8L1066.2,74.5L1072.8,74.5Z" fill="#fff" stroke="#0aa60a" stroke-width="1.25" stroke-linejoin="round"/><path d="M1074.8,67.5L1072.8,74.5L1066.2,74.5L1071.6,78.8L1069.5,85.9L1074.8,81.5L1075.3,81.3L1075.3,70.0Z" fill="#0aa60a" stroke="#0aa60a" stroke-width="1.25" stroke-linejoin="round"/>
<path d="M1094.6,68.6L1096.7,75.7L1103.3,75.6L1097.9,80.0L1100.0,87.0L1094.6,82.6L1089.3,87.0L1091.4,80.0L1086.0,75.6L1092.6,75.7Z" fill="#fff" stroke="#0aa60a" stroke-width="1.25" stroke-linejoin="round"/><path d="M1094.6,68.6L1092.6,75.7L1086.0,75.6L1091.4,80.0L1089.3,87.0L1094.6,82.6L1095.1,82.4L1095.1,71.1Z" fill="#0aa60a" stroke="#0aa60a" stroke-width="1.25" stroke-linejoin="round"/>
<path d="M1114.4,68.6L1116.4,75.7L1123.0,75.6L1117.7,80.0L1119.7,87.0L1114.4,82.6L1109.1,87.0L1111.1,80.0L1105.8,75.6L1112.4,75.7Z" fill="#fff" stroke="#0aa60a" stroke-width="1.25" stroke-linejoin="round"/><path d="M1114.4,68.6L1112.4,75.7L1105.8,75.6L1111.1,80.0L1109.1,87.0L1114.4,82.6L1114.9,82.4L1114.9,71.1Z" fill="#0aa60a" stroke="#0aa60a" stroke-width="1.25" stroke-linejoin="round"/>
<path d="M1134.2,66.8L1136.2,73.8L1142.8,73.8L1137.5,78.2L1139.5,85.2L1134.2,80.8L1128.9,85.2L1130.9,78.2L1125.6,73.8L1132.2,73.8Z" fill="#fff" stroke="#0aa60a" stroke-width="1.25" stroke-linejoin="round"/><path d="M1134.2,66.8L1132.2,73.8L1125.6,73.8L1130.9,78.2L1128.9,85.2L1134.2,80.8L1134.7,80.6L1134.7,69.3Z" fill="#0aa60a" stroke="#0aa60a" stroke-width="1.25" stroke-linejoin="round"/>
<path d="M1154.0,70.4L1156.0,77.5L1162.6,77.4L1157.3,81.8L1159.3,88.8L1154.0,84.5L1148.7,88.8L1150.7,81.8L1145.4,77.4L1152.0,77.5Z" fill="#fff" stroke="#0aa60a" stroke-width="1.25" stroke-linejoin="round"/><path d="M1154.0,70.4L1152.0,77.5L1145.4,77.4L1150.7,81.8L1148.7,88.8L1154.0,84.5L1154.5,84.2L1154.5,73.0Z" fill="#0aa60a" stroke="#0aa60a" stroke-width="1.25" stroke-linejoin="round"/>
<path d="M1173.8,69.1L1175.8,76.1L1182.4,76.1L1177.0,80.4L1179.1,87.5L1173.8,83.1L1168.4,87.5L1170.5,80.4L1165.1,76.1L1171.7,76.1Z" fill="#fff" stroke="#0aa60a" stroke-width="1.25" stroke-linejoin="round"/><path d="M1173.8,69.1L1171.7,76.1L1165.1,76.1L1170.5,80.4L1168.4,87.5L1173.8,83.1L1174.3,82.9L1174.3,71.6Z" fill="#0aa60a" stroke="#0aa60a" stroke-width="1.25" stroke-linejoin="round"/>
<path d="M1193.6,68.8L1195.6,75.9L1202.2,75.9L1196.8,80.2L1198.9,87.2L1193.6,82.9L1188.2,87.2L1190.3,80.2L1184.9,75.9L1191.5,75.9Z" fill="#fff" stroke="#0aa60a" stroke-width="1.25" stroke-linejoin="round"/><path d="M1193.6,68.8L1191.5,75.9L1184.9,75.9L1190.3,80.2L1188.2,87.2L1193.6,82.9L1194.1,82.7L1194.1,71.4Z" fill="#0aa60a" stroke="#0aa60a" stroke-width="1.25" stroke-linejoin="round"/>
<path d="M1213.3,68.6L1215.4,75.7L1222.0,75.6L1216.6,80.0L1218.7,87.0L1213.3,82.6L1208.0,87.0L1210.1,80.0L1204.7,75.6L1211.3,75.7Z" fill="#fff" stroke="#0aa60a" stroke-width="1.25" stroke-linejoin="round"/><path d="M1213.3,68.6L1211.3,75.7L1204.7,75.6L1210.1,80.0L1208.0,87.0L1213.3,82.6L1213.8,82.4L1213.8,71.1Z" fill="#0aa60a" stroke="#0aa60a" stroke-width="1.25" stroke-linejoin="round"/>
<path d="M1233.1,68.6L1235.2,75.7L1241.8,75.6L1236.4,80.0L1238.5,87.0L1233.1,82.6L1227.8,87.0L1229.8,80.0L1224.5,75.6L1231.1,75.7Z" fill="#fff" stroke="#0aa60a" stroke-width="1.25" stroke-linejoin="round"/><path d="M1233.1,68.6L1231.1,75.7L1224.5,75.6L1229.8,80.0L1227.8,87.0L1233.1,82.6L1233.6,82.4L1233.6,71.1Z" fill="#0aa60a" stroke="#0aa60a" stroke-width="1.25" stroke-linejoin="round"/>
<path d="M1252.9,66.8L1254.9,73.8L1261.5,73.8L1256.2,78.2L1258.2,85.2L1252.9,80.8L1247.6,85.2L1249.6,78.2L1244.3,73.8L1250.9,73.8Z" fill="#fff" stroke="#0aa60a" stroke-width="1.25" stroke-linejoin="round"/><path d="M1252.9,66.8L1250.9,73.8L1244.3,73.8L1249.6,78.2L1247.6,85.2L1252.9,80.8L1253.4,80.6L1253.4,69.3Z" fill="#0aa60a" stroke="#0aa60a" stroke-width="1.25" stroke-linejoin="round"/>
<path d="M1272.7,65.9L1274.7,72.9L1281.3,72.9L1276.0,77.3L1278.0,84.3L1272.7,79.9L1267.4,84.3L1269.4,77.3L1264.1,72.9L1270.7,72.9Z" fill="#fff" stroke="#0aa60a" stroke-width="1.25" stroke-linejoin="round"/><path d="M1272.7,65.9L1270.7,72.9L1264.1,72.9L1269.4,77.3L1267.4,84.3L1272.7,79.9L1273.2,79.7L1273.2,68.4Z" fill="#0aa60a" stroke="#0aa60a" stroke-width="1.25" stroke-linejoin="round"/>
<path d="M1292.5,67.5L1294.5,74.5L1301.1,74.5L1295.8,78.8L1297.8,85.9L1292.5,81.5L1287.1,85.9L1289.2,78.8L1283.8,74.5L1290.4,74.5Z" fill="#fff" stroke="#0aa60a" stroke-width="1.25" stroke-linejoin="round"/><path d="M1292.5,67.5L1290.4,74.5L1283.8,74.5L1289.2,78.8L1287.1,85.9L1292.5,81.5L1293.0,81.3L1293.0,70.0Z" fill="#0aa60a" stroke="#0aa60a" stroke-width="1.25" stroke-linejoin="round"/>
<path d="M1312.3,68.6L1314.3,75.7L1320.9,75.6L1315.5,80.0L1317.6,87.0L1312.3,82.6L1306.9,87.0L1309.0,80.0L1303.6,75.6L1310.2,75.7Z" fill="#fff" stroke="#0aa60a" stroke-width="1.25" stroke-linejoin="round"/><path d="M1312.3,68.6L1310.2,75.7L1303.6,75.6L1309.0,80.0L1306.9,87.0L1312.3,82.6L1312.8,82.4L1312.8,71.1Z" fill="#0aa60a" stroke="#0aa60a" stroke-width="1.25" stroke-linejoin="round"/>
<path d="M1332.0,65.9L1334.1,72.9L1340.7,72.9L1335.3,77.3L1337.4,84.3L1332.0,79.9L1326.7,84.3L1328.8,77.3L1323.4,72.9L1330.0,72.9Z" fill="#fff" stroke="#0aa60a" stroke-width="1.25" stroke-linejoin="round"/><path d="M1332.0,65.9L1330.0,72.9L1323.4,72.9L1328.8,77.3L1326.7,84.3L1332.0,79.9L1332.5,79.7L1332.5,68.4Z" fill="#0aa60a" stroke="#0aa60a" stroke-width="1.25" stroke-linejoin="round"/>
<path d="M1351.8,65.9L1353.9,72.9L1360.5,72.9L1355.1,77.3L1357.2,84.3L1351.8,79.9L1346.5,84.3L1348.6,77.3L1343.2,72.9L1349.8,72.9Z" fill="#fff" stroke="#0aa60a" stroke-width="1.25" stroke-linejoin="round"/><path d="M1351.8,65.9L1349.8,72.9L1343.2,72.9L1348.6,77.3L1346.5,84.3L1351.8,79.9L1352.3,79.7L1352.3,68.4Z" fill="#0aa60a" stroke="#0aa60a" stroke-width="1.25" stroke-linejoin="round"/>
<path d="M1371.6,65.9L1373.6,72.9L1380.2,72.9L1374.9,77.3L1376.9,84.3L1371.6,79.9L1366.3,84.3L1368.3,77.3L1363.0,72.9L1369.6,72.9Z" fill="#fff" stroke="#0aa60a" stroke-width="1.25" stroke-linejoin="round"/><path d="M1371.6,65.9L1369.6,72.9L1363.0,72.9L1368.3,77.3L1366.3,84.3L1371.6,79.9L1372.1,79.7L1372.1,68.4Z" fill="#0aa60a" stroke="#0aa60a" stroke-width="1.25" stroke-linejoin="round"/>
<path d="M1391.4,67.5L1393.4,74.5L1400.0,74.5L1394.7,78.8L1396.7,85.9L1391.4,81.5L1386.1,85.9L1388.1,78.8L1382.8,74.5L1389.4,74.5Z" fill="#fff" stroke="#0aa60a" stroke-width="1.25" stroke-linejoin="round"/><path d="M1391.4,67.5L1389.4,74.5L1382.8,74.5L1388.1,78.8L1386.1,85.9L1391.4,81.5L1391.9,81.3L1391.9,70.0Z" fill="#0aa60a" stroke="#0aa60a" stroke-width="1.25" stroke-linejoin="round"/>
<path d="M1411.2,65.9L1413.2,72.9L1419.8,72.9L1414.5,77.3L1416.5,84.3L1411.2,79.9L1405.9,84.3L1407.9,77.3L1402.6,72.9L1409.2,72.9Z" fill="#fff" stroke="#0aa60a" stroke-width="1.25" stroke-linejoin="round"/><path d="M1411.2,65.9L1409.2,72.9L1402.6,72.9L1407.9,77.3L1405.9,84.3L1411.2,79.9L1411.7,79.7L1411.7,68.4Z" fill="#0aa60a" stroke="#0aa60a" stroke-width="1.25" stroke-linejoin="round"/>
<path d="M1431.0,68.6L1433.0,75.7L1439.6,75.6L1434.2,80.0L1436.3,87.0L1431.0,82.6L1425.6,87.0L1427.7,80.0L1422.3,75.6L1428.9,75.7Z" fill="#fff" stroke="#0aa60a" stroke-width="1.25" stroke-linejoin="round"/><path d="M1431.0,68.6L1428.9,75.7L1422.3,75.6L1427.7,80.0L1425.6,87.0L1431.0,82.6L1431.5,82.4L1431.5,71.1Z" fill="#0aa60a" stroke="#0aa60a" stroke-width="1.25" stroke-linejoin="round"/>
<path d="M1450.8,65.2L1452.8,72.3L1459.4,72.2L1454.0,76.6L1456.1,83.6L1450.8,79.3L1445.4,83.6L1447.5,76.6L1442.1,72.2L1448.7,72.3Z" fill="#fff" stroke="#0aa60a" stroke-width="1.25" stroke-linejoin="round"/><path d="M1450.8,65.2L1448.7,72.3L1442.1,72.2L1447.5,76.6L1445.4,83.6L1450.8,79.3L1451.3,79.1L1451.3,67.8Z" fill="#0aa60a" stroke="#0aa60a" stroke-width="1.25" stroke-linejoin="round"/>
<path d="M1470.5,64.5L1472.6,71.6L1479.2,71.6L1473.8,75.9L1475.9,82.9L1470.5,78.6L1465.2,82.9L1467.3,75.9L1461.9,71.6L1468.5,71.6Z" fill="#fff" stroke="#0aa60a" stroke-width="1.25" stroke-linejoin="round"/><path d="M1470.5,64.5L1468.5,71.6L1461.9,71.6L1467.3,75.9L1465.2,82.9L1470.5,78.6L1471.0,78.4L1471.0,67.1Z" fill="#0aa60a" stroke="#0aa60a" stroke-width="1.25" stroke-linejoin="round"/>
<path d="M1490.3,63.0L1492.4,70.0L1499.0,70.0L1493.6,74.3L1495.7,81.4L1490.3,77.0L1485.0,81.4L1487.0,74.3L1481.7,70.0L1488.3,70.0Z" fill="#fff" stroke="#0aa60a" stroke-width="1.25" stroke-linejoin="round"/><path d="M1490.3,63.0L1488.3,70.0L1481.7,70.0L1487.0,74.3L1485.0,81.4L1490.3,77.0L1490.8,76.8L1490.8,65.5Z" fill="#0aa60a" stroke="#0aa60a" stroke-width="1.25" stroke-linejoin="round"/>
<path d="M1510.1,66.8L1512.1,73.8L1518.7,73.8L1513.4,78.2L1515.4,85.2L1510.1,80.8L1504.8,85.2L1506.8,78.2L1501.5,73.8L1508.1,73.8Z" fill="#fff" stroke="#0aa60a" stroke-width="1.25" stroke-linejoin="round"/><path d="M1510.1,66.8L1508.1,73.8L1501.5,73.8L1506.8,78.2L1504.8,85.2L1510.1,80.8L1510.6,80.6L1510.6,69.3Z" fill="#0aa60a" stroke="#0aa60a" stroke-width="1.25" stroke-linejoin="round"/>
<path d="M877.0,333.8L879.0,340.8L885.6,340.8L880.3,345.1L882.3,352.2L877.0,347.8L871.7,352.2L873.7,345.1L868.4,340.8L875.0,340.8Z" fill="#fff" stroke="#ff0000" stroke-width="1.25" stroke-linejoin="round"/><path d="M877.0,333.8L879.0,340.8L885.6,340.8L880.3,345.1L882.3,352.2L877.0,347.8L876.5,347.6L876.5,336.3Z" fill="#ff0000" stroke="#ff0000" stroke-width="1.25" stroke-linejoin="round"/>
<path d="M896.8,330.8L898.8,337.9L905.4,337.9L900.1,342.2L902.1,349.2L896.8,344.9L891.5,349.2L893.5,342.2L888.2,337.9L894.8,337.9Z" fill="#fff" stroke="#ff0000" stroke-width="1.25" stroke-linejoin="round"/><path d="M896.8,330.8L898.8,337.9L905.4,337.9L900.1,342.2L902.1,349.2L896.8,344.9L896.3,344.7L896.3,333.4Z" fill="#ff0000" stroke="#ff0000" stroke-width="1.25" stroke-linejoin="round"/>
<path d="M916.6,333.8L918.6,340.8L925.2,340.8L919.8,345.1L921.9,352.2L916.6,347.8L911.2,352.2L913.3,345.1L907.9,340.8L914.5,340.8Z" fill="#fff" stroke="#ff0000" stroke-width="1.25" stroke-linejoin="round"/><path d="M916.6,333.8L918.6,340.8L925.2,340.8L919.8,345.1L921.9,352.2L916.6,347.8L916.1,347.6L916.1,336.3Z" fill="#ff0000" stroke="#ff0000" stroke-width="1.25" stroke-linejoin="round"/>
<path d="M936.4,331.5L938.4,338.6L945.0,338.5L939.6,342.9L941.7,349.9L936.4,345.6L931.0,349.9L933.1,342.9L927.7,338.5L934.3,338.6Z" fill="#fff" stroke="#ff0000" stroke-width="1.25" stroke-linejoin="round"/><path d="M936.4,331.5L938.4,338.6L945.0,338.5L939.6,342.9L941.7,349.9L936.4,345.6L935.9,345.3L935.9,334.1Z" fill="#ff0000" stroke="#ff0000" stroke-width="1.25" stroke-linejoin="round"/>
<path d="M956.1,330.8L958.2,337.9L964.8,337.9L959.4,342.2L961.5,349.2L956.1,344.9L950.8,349.2L952.9,342.2L947.5,337.9L954.1,337.9Z" fill="#fff" stroke="#ff0000" stroke-width="1.25" stroke-linejoin="round"/><path d="M956.1,330.8L958.2,337.9L964.8,337.9L959.4,342.2L961.5,349.2L956.1,344.9L955.6,344.7L955.6,333.4Z" fill="#ff0000" stroke="#ff0000" stroke-width="1.25" stroke-linejoin="round"/>
<path d="M975.9,329.3L978.0,336.3L984.6,336.3L979.2,340.6L981.3,347.7L975.9,343.3L970.6,347.7L972.6,340.6L967.3,336.3L973.9,336.3Z" fill="#fff" stroke="#ff0000" stroke-width="1.25" stroke-linejoin="round"/><path d="M975.9,329.3L978.0,336.3L984.6,336.3L979.2,340.6L981.3,347.7L975.9,343.3L975.4,343.1L975.4,331.8Z" fill="#ff0000" stroke="#ff0000" stroke-width="1.25" stroke-linejoin="round"/>
<path d="M995.7,329.3L997.7,336.3L1004.3,336.3L999.0,340.6L1001.0,347.7L995.7,343.3L990.4,347.7L992.4,340.6L987.1,336.3L993.7,336.3Z" fill="#fff" stroke="#ff0000" stroke-width="1.25" stroke-linejoin="round"/><path d="M995.7,329.3L997.7,336.3L1004.3,336.3L999.0,340.6L1001.0,347.7L995.7,343.3L995.2,343.1L995.2,331.8Z" fill="#ff0000" stroke="#ff0000" stroke-width="1.25" stroke-linejoin="round"/>
<path d="M1015.5,329.3L1017.5,336.3L1024.1,336.3L1018.8,340.6L1020.8,347.7L1015.5,343.3L1010.2,347.7L1012.2,340.6L1006.9,336.3L1013.5,336.3Z" fill="#fff" stroke="#ff0000" stroke-width="1.25" stroke-linejoin="round"/><path d="M1015.5,329.3L1017.5,336.3L1024.1,336.3L1018.8,340.6L1020.8,347.7L1015.5,343.3L1015.0,343.1L1015.0,331.8Z" fill="#ff0000" stroke="#ff0000" stroke-width="1.25" stroke-linejoin="round"/>
<path d="M1035.3,325.4L1037.3,332.5L1043.9,332.4L1038.6,336.8L1040.6,343.8L1035.3,339.5L1029.9,343.8L1032.0,336.8L1026.6,332.4L1033.2,332.5Z" fill="#fff" stroke="#ff0000" stroke-width="1.25" stroke-linejoin="round"/><path d="M1035.3,325.4L1037.3,332.5L1043.9,332.4L1038.6,336.8L1040.6,343.8L1035.3,339.5L1034.8,339.2L1034.8,328.0Z" fill="#ff0000" stroke="#ff0000" stroke-width="1.25" stroke-linejoin="round"/>
<path d="M1055.1,329.3L1057.1,336.3L1063.7,336.3L1058.3,340.6L1060.4,347.7L1055.1,343.3L1049.7,347.7L1051.8,340.6L1046.4,336.3L1053.0,336.3Z" fill="#fff" stroke="#ff0000" stroke-width="1.25" stroke-linejoin="round"/><path d="M1055.1,329.3L1057.1,336.3L1063.7,336.3L1058.3,340.6L1060.4,347.7L1055.1,343.3L1054.6,343.1L1054.6,331.8Z" fill="#ff0000" stroke="#ff0000" stroke-width="1.25" stroke-linejoin="round"/>
<path d="M1074.8,329.3L1076.9,336.3L1083.5,336.3L1078.1,340.6L1080.2,347.7L1074.8,343.3L1069.5,347.7L1071.6,340.6L1066.2,336.3L1072.8,336.3Z" fill="#fff" stroke="#ff0000" stroke-width="1.25" stroke-linejoin="round"/><path d="M1074.8,329.3L1076.9,336.3L1083.5,336.3L1078.1,340.6L1080.2,347.7L1074.8,343.3L1074.3,343.1L1074.3,331.8Z" fill="#ff0000" stroke="#ff0000" stroke-width="1.25" stroke-linejoin="round"/>
<path d="M1094.6,329.9L1096.7,337.0L1103.3,337.0L1097.9,341.3L1100.0,348.3L1094.6,344.0L1089.3,348.3L1091.4,341.3L1086.0,337.0L1092.6,337.0Z" fill="#fff" stroke="#ff0000" stroke-width="1.25" stroke-linejoin="round"/><path d="M1094.6,329.9L1096.7,337.0L1103.3,337.0L1097.9,341.3L1100.0,348.3L1094.6,344.0L1094.1,343.8L1094.1,332.5Z" fill="#ff0000" stroke="#ff0000" stroke-width="1.25" stroke-linejoin="round"/>
<path d="M1114.4,324.7L1116.4,331.8L1123.0,331.8L1117.7,336.1L1119.7,343.1L1114.4,338.8L1109.1,343.1L1111.1,336.1L1105.8,331.8L1112.4,331.8Z" fill="#fff" stroke="#ff0000" stroke-width="1.25" stroke-linejoin="round"/><path d="M1114.4,324.7L1116.4,331.8L1123.0,331.8L1117.7,336.1L1119.7,343.1L1114.4,338.8L1113.9,338.6L1113.9,327.3Z" fill="#ff0000" stroke="#ff0000" stroke-width="1.25" stroke-linejoin="round"/>
<path d="M1134.2,325.4L1136.2,332.5L1142.8,332.4L1137.5,336.8L1139.5,343.8L1134.2,339.5L1128.9,343.8L1130.9,336.8L1125.6,332.4L1132.2,332.5Z" fill="#fff" stroke="#ff0000" stroke-width="1.25" stroke-linejoin="round"/><path d="M1134.2,325.4L1136.2,332.5L1142.8,332.4L1137.5,336.8L1139.5,343.8L1134.2,339.5L1133.7,339.2L1133.7,328.0Z" fill="#ff0000" stroke="#ff0000" stroke-width="1.25" stroke-linejoin="round"/>
<path d="M1154.0,327.0L1156.0,334.0L1162.6,334.0L1157.3,338.4L1159.3,345.4L1154.0,341.0L1148.7,345.4L1150.7,338.4L1145.4,334.0L1152.0,334.0Z" fill="#fff" stroke="#ff0000" stroke-width="1.25" stroke-linejoin="round"/><path d="M1154.0,327.0L1156.0,334.0L1162.6,334.0L1157.3,338.4L1159.3,345.4L1154.0,341.0L1153.5,340.8L1153.5,329.5Z" fill="#ff0000" stroke="#ff0000" stroke-width="1.25" stroke-linejoin="round"/>
<path d="M1173.8,325.4L1175.8,332.5L1182.4,332.4L1177.0,336.8L1179.1,343.8L1173.8,339.5L1168.4,343.8L1170.5,336.8L1165.1,332.4L1171.7,332.5Z" fill="#fff" stroke="#ff0000" stroke-width="1.25" stroke-linejoin="round"/><path d="M1173.8,325.4L1175.8,332.5L1182.4,332.4L1177.0,336.8L1179.1,343.8L1173.8,339.5L1173.3,339.2L1173.3,328.0Z" fill="#ff0000" stroke="#ff0000" stroke-width="1.25" stroke-linejoin="round"/>
<path d="M1193.6,323.6L1195.6,330.7L1202.2,330.6L1196.8,335.0L1198.9,342.0L1193.6,337.6L1188.2,342.0L1190.3,335.0L1184.9,330.6L1191.5,330.7Z" fill="#fff" stroke="#ff0000" stroke-width="1.25" stroke-linejoin="round"/><path d="M1193.6,323.6L1195.6,330.7L1202.2,330.6L1196.8,335.0L1198.9,342.0L1193.6,337.6L1193.1,337.4L1193.1,326.1Z" fill="#ff0000" stroke="#ff0000" stroke-width="1.25" stroke-linejoin="round"/>
<path d="M1213.3,325.9L1215.4,332.9L1222.0,332.9L1216.6,337.2L1218.7,344.3L1213.3,339.9L1208.0,344.3L1210.1,337.2L1204.7,332.9L1211.3,332.9Z" fill="#fff" stroke="#ff0000" stroke-width="1.25" stroke-linejoin="round"/><path d="M1213.3,325.9L1215.4,332.9L1222.0,332.9L1216.6,337.2L1218.7,344.3L1213.3,339.9L1212.8,339.7L1212.8,328.4Z" fill="#ff0000" stroke="#ff0000" stroke-width="1.25" stroke-linejoin="round"/>
<path d="M1233.1,324.1L1235.2,331.1L1241.8,331.1L1236.4,335.4L1238.5,342.5L1233.1,338.1L1227.8,342.5L1229.8,335.4L1224.5,331.1L1231.1,331.1Z" fill="#fff" stroke="#ff0000" stroke-width="1.25" stroke-linejoin="round"/><path d="M1233.1,324.1L1235.2,331.1L1241.8,331.1L1236.4,335.4L1238.5,342.5L1233.1,338.1L1232.6,337.9L1232.6,326.6Z" fill="#ff0000" stroke="#ff0000" stroke-width="1.25" stroke-linejoin="round"/>
<path d="M1252.9,329.3L1254.9,336.3L1261.5,336.3L1256.2,340.6L1258.2,347.7L1252.9,343.3L1247.6,347.7L1249.6,340.6L1244.3,336.3L1250.9,336.3Z" fill="#fff" stroke="#ff0000" stroke-width="1.25" stroke-linejoin="round"/><path d="M1252.9,329.3L1254.9,336.3L1261.5,336.3L1256.2,340.6L1258.2,347.7L1252.9,343.3L1252.4,343.1L1252.4,331.8Z" fill="#ff0000" stroke="#ff0000" stroke-width="1.25" stroke-linejoin="round"/>
<path d="M1272.7,329.3L1274.7,336.3L1281.3,336.3L1276.0,340.6L1278.0,347.7L1272.7,343.3L1267.4,347.7L1269.4,340.6L1264.1,336.3L1270.7,336.3Z" fill="#fff" stroke="#ff0000" stroke-width="1.25" stroke-linejoin="round"/><path d="M1272.7,329.3L1274.7,336.3L1281.3,336.3L1276.0,340.6L1278.0,347.7L1272.7,343.3L1272.2,343.1L1272.2,331.8Z" fill="#ff0000" stroke="#ff0000" stroke-width="1.25" stroke-linejoin="round"/>
<path d="M1292.5,329.3L1294.5,336.3L1301.1,336.3L1295.8,340.6L1297.8,347.7L1292.5,343.3L1287.1,347.7L1289.2,340.6L1283.8,336.3L1290.4,336.3Z" fill="#fff" stroke="#ff0000" stroke-width="1.25" stroke-linejoin="round"/><path d="M1292.5,329.3L1294.5,336.3L1301.1,336.3L1295.8,340.6L1297.8,347.7L1292.5,343.3L1292.0,343.1L1292.0,331.8Z" fill="#ff0000" stroke="#ff0000" stroke-width="1.25" stroke-linejoin="round"/>
<path d="M1312.3,326.3L1314.3,333.4L1320.9,333.3L1315.5,337.7L1317.6,344.7L1312.3,340.4L1306.9,344.7L1309.0,337.7L1303.6,333.3L1310.2,333.4Z" fill="#fff" stroke="#ff0000" stroke-width="1.25" stroke-linejoin="round"/><path d="M1312.3,326.3L1314.3,333.4L1320.9,333.3L1315.5,337.7L1317.6,344.7L1312.3,340.4L1311.8,340.2L1311.8,328.9Z" fill="#ff0000" stroke="#ff0000" stroke-width="1.25" stroke-linejoin="round"/>
<path d="M1332.0,329.3L1334.1,336.3L1340.7,336.3L1335.3,340.6L1337.4,347.7L1332.0,343.3L1326.7,347.7L1328.8,340.6L1323.4,336.3L1330.0,336.3Z" fill="#fff" stroke="#ff0000" stroke-width="1.25" stroke-linejoin="round"/><path d="M1332.0,329.3L1334.1,336.3L1340.7,336.3L1335.3,340.6L1337.4,347.7L1332.0,343.3L1331.5,343.1L1331.5,331.8Z" fill="#ff0000" stroke="#ff0000" stroke-width="1.25" stroke-linejoin="round"/>
<path d="M1351.8,327.0L1353.9,334.0L1360.5,334.0L1355.1,338.4L1357.2,345.4L1351.8,341.0L1346.5,345.4L1348.6,338.4L1343.2,334.0L1349.8,334.0Z" fill="#fff" stroke="#ff0000" stroke-width="1.25" stroke-linejoin="round"/><path d="M1351.8,327.0L1353.9,334.0L1360.5,334.0L1355.1,338.4L1357.2,345.4L1351.8,341.0L1351.3,340.8L1351.3,329.5Z" fill="#ff0000" stroke="#ff0000" stroke-width="1.25" stroke-linejoin="round"/>
<path d="M1371.6,327.0L1373.6,334.0L1380.2,334.0L1374.9,338.4L1376.9,345.4L1371.6,341.0L1366.3,345.4L1368.3,338.4L1363.0,334.0L1369.6,334.0Z" fill="#fff" stroke="#ff0000" stroke-width="1.25" stroke-linejoin="round"/><path d="M1371.6,327.0L1373.6,334.0L1380.2,334.0L1374.9,338.4L1376.9,345.4L1371.6,341.0L1371.1,340.8L1371.1,329.5Z" fill="#ff0000" stroke="#ff0000" stroke-width="1.25" stroke-linejoin="round"/>
<path d="M1391.4,327.0L1393.4,334.0L1400.0,334.0L1394.7,338.4L1396.7,345.4L1391.4,341.0L1386.1,345.4L1388.1,338.4L1382.8,334.0L1389.4,334.0Z" fill="#fff" stroke="#ff0000" stroke-width="1.25" stroke-linejoin="round"/><path d="M1391.4,327.0L1393.4,334.0L1400.0,334.0L1394.7,338.4L1396.7,345.4L1391.4,341.0L1390.9,340.8L1390.9,329.5Z" fill="#ff0000" stroke="#ff0000" stroke-width="1.25" stroke-linejoin="round"/>
<path d="M1411.2,327.0L1413.2,334.0L1419.8,334.0L1414.5,338.4L1416.5,345.4L1411.2,341.0L1405.9,345.4L1407.9,338.4L1402.6,334.0L1409.2,334.0Z" fill="#fff" stroke="#ff0000" stroke-width="1.25" stroke-linejoin="round"/><path d="M1411.2,327.0L1413.2,334.0L1419.8,334.0L1414.5,338.4L1416.5,345.4L1411.2,341.0L1410.7,340.8L1410.7,329.5Z" fill="#ff0000" stroke="#ff0000" stroke-width="1.25" stroke-linejoin="round"/>
<path d="M1431.0,324.1L1433.0,331.1L1439.6,331.1L1434.2,335.4L1436.3,342.5L1431.0,338.1L1425.6,342.5L1427.7,335.4L1422.3,331.1L1428.9,331.1Z" fill="#fff" stroke="#ff0000" stroke-width="1.25" stroke-linejoin="round"/><path d="M1431.0,324.1L1433.0,331.1L1439.6,331.1L1434.2,335.4L1436.3,342.5L1431.0,338.1L1430.5,337.9L1430.5,326.6Z" fill="#ff0000" stroke="#ff0000" stroke-width="1.25" stroke-linejoin="round"/>
<path d="M1450.8,329.3L1452.8,336.3L1459.4,336.3L1454.0,340.6L1456.1,347.7L1450.8,343.3L1445.4,347.7L1447.5,340.6L1442.1,336.3L1448.7,336.3Z" fill="#fff" stroke="#ff0000" stroke-width="1.25" stroke-linejoin="round"/><path d="M1450.8,329.3L1452.8,336.3L1459.4,336.3L1454.0,340.6L1456.1,347.7L1450.8,343.3L1450.3,343.1L1450.3,331.8Z" fill="#ff0000" stroke="#ff0000" stroke-width="1.25" stroke-linejoin="round"/>
<path d="M1470.5,327.0L1472.6,334.0L1479.2,334.0L1473.8,338.4L1475.9,345.4L1470.5,341.0L1465.2,345.4L1467.3,338.4L1461.9,334.0L1468.5,334.0Z" fill="#fff" stroke="#ff0000" stroke-width="1.25" stroke-linejoin="round"/><path d="M1470.5,327.0L1472.6,334.0L1479.2,334.0L1473.8,338.4L1475.9,345.4L1470.5,341.0L1470.0,340.8L1470.0,329.5Z" fill="#ff0000" stroke="#ff0000" stroke-width="1.25" stroke-linejoin="round"/>
<path d="M1490.3,329.3L1492.4,336.3L1499.0,336.3L1493.6,340.6L1495.7,347.7L1490.3,343.3L1485.0,347.7L1487.0,340.6L1481.7,336.3L1488.3,336.3Z" fill="#fff" stroke="#ff0000" stroke-width="1.25" stroke-linejoin="round"/><path d="M1490.3,329.3L1492.4,336.3L1499.0,336.3L1493.6,340.6L1495.7,347.7L1490.3,343.3L1489.8,343.1L1489.8,331.8Z" fill="#ff0000" stroke="#ff0000" stroke-width="1.25" stroke-linejoin="round"/>
<path d="M1510.1,325.4L1512.1,332.5L1518.7,332.4L1513.4,336.8L1515.4,343.8L1510.1,339.5L1504.8,343.8L1506.8,336.8L1501.5,332.4L1508.1,332.5Z" fill="#fff" stroke="#ff0000" stroke-width="1.25" stroke-linejoin="round"/><path d="M1510.1,325.4L1512.1,332.5L1518.7,332.4L1513.4,336.8L1515.4,343.8L1510.1,339.5L1509.6,339.2L1509.6,328.0Z" fill="#ff0000" stroke="#ff0000" stroke-width="1.25" stroke-linejoin="round"/>
</g>
<text transform="translate(830.59 560.40) scale(0.8800 1)" font-size="31.97" fill="#42085c" stroke="#42085c" stroke-width="0.20" letter-spacing="0.261">20</text>
<text transform="translate(830.94 442.30) scale(0.8800 1)" font-size="31.97" fill="#42085c" stroke="#42085c" stroke-width="0.20" letter-spacing="-0.139">30</text>
<text transform="translate(831.38 324.50) scale(0.8638 1)" font-size="31.97" fill="#42085c" stroke="#42085c" stroke-width="0.20">40</text>
<text transform="translate(830.87 206.70) scale(0.8800 1)" font-size="31.97" fill="#42085c" stroke="#42085c" stroke-width="0.20" letter-spacing="-0.059">50</text>
<text transform="translate(830.59 88.90) scale(0.8800 1)" font-size="31.97" fill="#42085c" stroke="#42085c" stroke-width="0.20" letter-spacing="0.261">60</text>
<text transform="translate(868.33 590.60) scale(0.9081 1)" font-size="32.29" fill="#42085c" stroke="#42085c" stroke-width="0.20">0</text>
<text transform="translate(959.91 590.60) scale(0.8639 1)" font-size="32.29" fill="#42085c" stroke="#42085c" stroke-width="0.20">50</text>
<text transform="translate(1049.67 590.60) scale(0.8800 1)" font-size="32.29" fill="#42085c" stroke="#42085c" stroke-width="0.20" letter-spacing="0.522">100</text>
<text transform="translate(1148.59 590.60) scale(0.8800 1)" font-size="32.29" fill="#42085c" stroke="#42085c" stroke-width="0.20" letter-spacing="0.522">150</text>
<text transform="translate(1248.22 590.60) scale(0.8800 1)" font-size="32.29" fill="#42085c" stroke="#42085c" stroke-width="0.20" letter-spacing="0.119">200</text>
<text transform="translate(1347.14 590.60) scale(0.8800 1)" font-size="32.29" fill="#42085c" stroke="#42085c" stroke-width="0.20" letter-spacing="0.119">250</text>
<text transform="translate(1446.42 590.60) scale(0.8800 1)" font-size="32.29" fill="#42085c" stroke="#42085c" stroke-width="0.20" letter-spacing="-0.083">300</text>
<text transform="translate(819.20 506.48) rotate(-90) scale(0.9768 0.8700)" font-size="31.97" fill="#42004f" stroke="#42004f" stroke-width="0.20" font-weight="bold">Atomic % Silicon and Oxygen</text>
<text transform="translate(1093.81 52.80) scale(0.8800 1)" font-size="31.56" fill="#000000" stroke="#000000" stroke-width="0.20" font-weight="bold" letter-spacing="0.467">Atomic % Profile</text>
<text transform="translate(1135.17 628.40) scale(0.9200 1)" font-size="30.72" fill="#42085c" stroke="#42085c" stroke-width="0.20" letter-spacing="0.320">Etch Depth (nm)</text>
<text transform="translate(962.04 130.20) scale(0.8800 1)" font-size="36.97" fill="#000000" stroke="#000000" stroke-width="0.20" letter-spacing="1.413">SRO</text>
<text transform="translate(1032.51 143.50) scale(0.8800 1)" font-size="22.39" fill="#000000" stroke="#000000" stroke-width="0.20" letter-spacing="0.796">25</text>
<text transform="translate(1062.87 130.20) scale(0.8800 1)" font-size="36.97" fill="#000000" stroke="#000000" stroke-width="0.20" letter-spacing="0.407">T-A Oxygen</text>
<text transform="translate(967.04 397.40) scale(0.8800 1)" font-size="36.97" fill="#000000" stroke="#000000" stroke-width="0.20" letter-spacing="0.674">SRO</text>
<text transform="translate(1036.94 410.40) scale(0.8538 1)" font-size="22.39" fill="#000000" stroke="#000000" stroke-width="0.20">25</text>
<text transform="translate(1067.47 397.40) scale(0.8800 1)" font-size="36.97" fill="#000000" stroke="#000000" stroke-width="0.20" letter-spacing="0.283">T-A Silicon</text>
<text transform="translate(881.79 488.70) scale(0.8800 1)" font-size="34.37" fill="#15480f" stroke="#15480f" stroke-width="0.20" font-weight="bold" letter-spacing="2.373">Oxygen Deficiency -6.2%</text>
<text transform="translate(882.99 534.30) scale(0.8800 1)" font-size="34.37" fill="#8a0404" stroke="#8a0404" stroke-width="0.20" font-weight="bold" letter-spacing="2.186">Silicon Excess 5.3%</text>
<text transform="translate(1448.32 513.60) scale(0.8800 1)" font-size="54.16" fill="#000000" stroke="#000000" stroke-width="0.20" letter-spacing="4.599">(b)</text>
<path d="M881.8,117.7H905.6M929.5,117.7H954.2" fill="none" stroke="#8030ff" stroke-width="2.5"/>
<path d="M918.0,107.2L920.2,114.3L927.2,114.3L921.5,118.6L923.7,125.6L918.0,121.3L912.3,125.6L914.5,118.6L908.8,114.3L915.8,114.3Z" fill="#fff" stroke="#0aa60a" stroke-width="1.25" stroke-linejoin="round"/><path d="M918.0,107.2L915.8,114.3L908.8,114.3L914.5,118.6L912.3,125.6L918.0,121.3L918.3,121.1L918.3,109.8Z" fill="#0aa60a" stroke="#0aa60a" stroke-width="1.25" stroke-linejoin="round"/>
<path d="M885.5,385.4H909.6M932.9,385.4H956.7" fill="none" stroke="#b04848" stroke-width="1.6"/>
<path d="M922.0,375.2L924.2,381.7L931.2,381.7L925.5,385.7L927.7,392.2L922.0,388.2L916.3,392.2L918.5,385.7L912.8,381.7L919.8,381.7Z" fill="#fff" stroke="#ff0000" stroke-width="1.25" stroke-linejoin="round"/><path d="M922.0,375.2L924.2,381.7L931.2,381.7L925.5,385.7L927.7,392.2L922.0,388.2L921.7,388.0L921.7,377.6Z" fill="#ff0000" stroke="#ff0000" stroke-width="1.25" stroke-linejoin="round"/>
</g>
<g id="panel-c">
<g stroke="#42004f" fill="none" stroke-linecap="round">
<line x1="110.8" y1="1178.0" x2="100.9" y2="1178.0" stroke-width="6.2"/>
<line x1="110.8" y1="1119.3" x2="105.2" y2="1119.3" stroke-width="6.2"/>
<line x1="110.8" y1="1060.6" x2="100.9" y2="1060.6" stroke-width="6.2"/>
<line x1="110.8" y1="1001.9" x2="105.2" y2="1001.9" stroke-width="6.2"/>
<line x1="110.8" y1="943.2" x2="100.9" y2="943.2" stroke-width="6.2"/>
<line x1="110.8" y1="884.6" x2="105.2" y2="884.6" stroke-width="6.2"/>
<line x1="110.8" y1="825.9" x2="100.9" y2="825.9" stroke-width="6.2"/>
<line x1="110.8" y1="767.2" x2="105.2" y2="767.2" stroke-width="6.2"/>
<line x1="110.8" y1="708.5" x2="100.9" y2="708.5" stroke-width="6.2"/>
<line x1="110.8" y1="651.6" x2="105.2" y2="651.6" stroke-width="6.2"/>
<line x1="110.8" y1="1178.0" x2="110.8" y2="1187.5" stroke-width="6.0"/>
<line x1="161.5" y1="1178.0" x2="161.5" y2="1182.1" stroke-width="6.0"/>
<line x1="212.2" y1="1178.0" x2="212.2" y2="1187.5" stroke-width="6.0"/>
<line x1="262.9" y1="1178.0" x2="262.9" y2="1182.1" stroke-width="6.0"/>
<line x1="313.6" y1="1178.0" x2="313.6" y2="1187.5" stroke-width="6.0"/>
<line x1="364.3" y1="1178.0" x2="364.3" y2="1182.1" stroke-width="6.0"/>
<line x1="415.0" y1="1178.0" x2="415.0" y2="1187.5" stroke-width="6.0"/>
<line x1="465.8" y1="1178.0" x2="465.8" y2="1182.1" stroke-width="6.0"/>
<line x1="516.5" y1="1178.0" x2="516.5" y2="1187.5" stroke-width="6.0"/>
<line x1="567.2" y1="1178.0" x2="567.2" y2="1182.1" stroke-width="6.0"/>
<line x1="617.9" y1="1178.0" x2="617.9" y2="1187.5" stroke-width="6.0"/>
<line x1="668.6" y1="1178.0" x2="668.6" y2="1182.1" stroke-width="6.0"/>
<line x1="719.3" y1="1178.0" x2="719.3" y2="1187.5" stroke-width="6.0"/>
<line x1="770.0" y1="1178.0" x2="770.0" y2="1182.1" stroke-width="6.0"/>
</g>
<g stroke="#42004f" fill="none" stroke-linecap="butt">
<line x1="107.5" y1="651.6" x2="773.3" y2="651.6" stroke-width="6.6"/>
<line x1="107.5" y1="1178.0" x2="773.3" y2="1178.0" stroke-width="6.6"/>
<line x1="110.8" y1="648.3" x2="110.8" y2="1181.3" stroke-width="6.6"/>
<line x1="770.0" y1="648.3" x2="770.0" y2="1181.3" stroke-width="6.6"/>
</g>
<clipPath id="clip-c"><rect x="110.3" y="651.6" width="660.2" height="526.4"/></clipPath>
<g clip-path="url(#clip-c)">
<line x1="117.7" y1="746.1" x2="124.2" y2="754.2" stroke="#a050ff" stroke-width="1.3"/>
<path d="M110.8,729.2L112.9,734.7L118.9,734.9L114.2,738.6L115.8,744.2L110.8,741.0L105.8,744.2L107.4,738.6L102.7,734.9L108.7,734.7Z" fill="#fff" stroke="#0aa60a" stroke-width="1.50" stroke-linejoin="round"/><path d="M110.8,729.2L108.7,734.7L102.7,734.9L107.4,738.6L105.8,744.2L110.8,741.0L111.6,740.8L111.6,731.3Z" fill="#0aa60a" stroke="#0aa60a" stroke-width="1.50" stroke-linejoin="round"/>
<path d="M131.1,754.5L133.2,760.0L139.2,760.2L134.5,763.9L136.1,769.5L131.1,766.3L126.1,769.5L127.7,763.9L123.0,760.2L129.0,760.0Z" fill="#fff" stroke="#0aa60a" stroke-width="1.50" stroke-linejoin="round"/><path d="M131.1,754.5L129.0,760.0L123.0,760.2L127.7,763.9L126.1,769.5L131.1,766.3L131.9,766.1L131.9,756.6Z" fill="#0aa60a" stroke="#0aa60a" stroke-width="1.50" stroke-linejoin="round"/>
<path d="M151.4,747.3L153.5,752.8L159.5,753.0L154.8,756.6L156.4,762.2L151.4,759.0L146.3,762.2L148.0,756.6L143.2,753.0L149.3,752.8Z" fill="#fff" stroke="#0aa60a" stroke-width="1.50" stroke-linejoin="round"/><path d="M151.4,747.3L149.3,752.8L143.2,753.0L148.0,756.6L146.3,762.2L151.4,759.0L152.2,758.9L152.2,749.4Z" fill="#0aa60a" stroke="#0aa60a" stroke-width="1.50" stroke-linejoin="round"/>
<path d="M171.6,743.2L173.8,748.7L179.8,748.9L175.1,752.6L176.7,758.2L171.6,755.0L166.6,758.2L168.2,752.6L163.5,748.9L169.5,748.7Z" fill="#fff" stroke="#0aa60a" stroke-width="1.50" stroke-linejoin="round"/><path d="M171.6,743.2L169.5,748.7L163.5,748.9L168.2,752.6L166.6,758.2L171.6,755.0L172.4,754.8L172.4,745.3Z" fill="#0aa60a" stroke="#0aa60a" stroke-width="1.50" stroke-linejoin="round"/>
<path d="M191.9,738.7L194.0,744.2L200.1,744.4L195.3,748.1L197.0,753.7L191.9,750.4L186.9,753.7L188.5,748.1L183.8,744.4L189.8,744.2Z" fill="#fff" stroke="#0aa60a" stroke-width="1.50" stroke-linejoin="round"/><path d="M191.9,738.7L189.8,744.2L183.8,744.4L188.5,748.1L186.9,753.7L191.9,750.4L192.7,750.3L192.7,740.8Z" fill="#0aa60a" stroke="#0aa60a" stroke-width="1.50" stroke-linejoin="round"/>
<path d="M212.2,738.7L214.3,744.2L220.3,744.4L215.6,748.1L217.2,753.7L212.2,750.4L207.2,753.7L208.8,748.1L204.1,744.4L210.1,744.2Z" fill="#fff" stroke="#0aa60a" stroke-width="1.50" stroke-linejoin="round"/><path d="M212.2,738.7L210.1,744.2L204.1,744.4L208.8,748.1L207.2,753.7L212.2,750.4L213.0,750.3L213.0,740.8Z" fill="#0aa60a" stroke="#0aa60a" stroke-width="1.50" stroke-linejoin="round"/>
<path d="M232.5,739.2L234.6,744.6L240.6,744.9L235.9,748.5L237.5,754.1L232.5,750.9L227.5,754.1L229.1,748.5L224.4,744.9L230.4,744.6Z" fill="#fff" stroke="#0aa60a" stroke-width="1.50" stroke-linejoin="round"/><path d="M232.5,739.2L230.4,744.6L224.4,744.9L229.1,748.5L227.5,754.1L232.5,750.9L233.3,750.7L233.3,741.2Z" fill="#0aa60a" stroke="#0aa60a" stroke-width="1.50" stroke-linejoin="round"/>
<path d="M252.8,739.9L254.9,745.3L260.9,745.6L256.2,749.2L257.8,754.8L252.8,751.6L247.8,754.8L249.4,749.2L244.7,745.6L250.7,745.3Z" fill="#fff" stroke="#0aa60a" stroke-width="1.50" stroke-linejoin="round"/><path d="M252.8,739.9L250.7,745.3L244.7,745.6L249.4,749.2L247.8,754.8L252.8,751.6L253.6,751.4L253.6,741.9Z" fill="#0aa60a" stroke="#0aa60a" stroke-width="1.50" stroke-linejoin="round"/>
<path d="M273.1,739.2L275.2,744.6L281.2,744.9L276.5,748.5L278.1,754.1L273.1,750.9L268.0,754.1L269.6,748.5L264.9,744.9L271.0,744.6Z" fill="#fff" stroke="#0aa60a" stroke-width="1.50" stroke-linejoin="round"/><path d="M273.1,739.2L271.0,744.6L264.9,744.9L269.6,748.5L268.0,754.1L273.1,750.9L273.9,750.7L273.9,741.2Z" fill="#0aa60a" stroke="#0aa60a" stroke-width="1.50" stroke-linejoin="round"/>
<path d="M293.3,739.2L295.5,744.6L301.5,744.9L296.8,748.5L298.4,754.1L293.3,750.9L288.3,754.1L289.9,748.5L285.2,744.9L291.2,744.6Z" fill="#fff" stroke="#0aa60a" stroke-width="1.50" stroke-linejoin="round"/><path d="M293.3,739.2L291.2,744.6L285.2,744.9L289.9,748.5L288.3,754.1L293.3,750.9L294.1,750.7L294.1,741.2Z" fill="#0aa60a" stroke="#0aa60a" stroke-width="1.50" stroke-linejoin="round"/>
<path d="M313.6,740.5L315.7,746.0L321.8,746.2L317.0,749.9L318.7,755.5L313.6,752.3L308.6,755.5L310.2,749.9L305.5,746.2L311.5,746.0Z" fill="#fff" stroke="#0aa60a" stroke-width="1.50" stroke-linejoin="round"/><path d="M313.6,740.5L311.5,746.0L305.5,746.2L310.2,749.9L308.6,755.5L313.6,752.3L314.4,752.1L314.4,742.6Z" fill="#0aa60a" stroke="#0aa60a" stroke-width="1.50" stroke-linejoin="round"/>
<path d="M333.9,740.5L336.0,746.0L342.0,746.2L337.3,749.9L338.9,755.5L333.9,752.3L328.9,755.5L330.5,749.9L325.8,746.2L331.8,746.0Z" fill="#fff" stroke="#0aa60a" stroke-width="1.50" stroke-linejoin="round"/><path d="M333.9,740.5L331.8,746.0L325.8,746.2L330.5,749.9L328.9,755.5L333.9,752.3L334.7,752.1L334.7,742.6Z" fill="#0aa60a" stroke="#0aa60a" stroke-width="1.50" stroke-linejoin="round"/>
<path d="M354.2,736.5L356.3,741.9L362.3,742.2L357.6,745.8L359.2,751.4L354.2,748.2L349.2,751.4L350.8,745.8L346.1,742.2L352.1,741.9Z" fill="#fff" stroke="#0aa60a" stroke-width="1.50" stroke-linejoin="round"/><path d="M354.2,736.5L352.1,741.9L346.1,742.2L350.8,745.8L349.2,751.4L354.2,748.2L355.0,748.0L355.0,738.5Z" fill="#0aa60a" stroke="#0aa60a" stroke-width="1.50" stroke-linejoin="round"/>
<path d="M374.5,737.6L376.6,743.0L382.6,743.3L377.9,746.9L379.5,752.5L374.5,749.3L369.5,752.5L371.1,746.9L366.3,743.3L372.4,743.0Z" fill="#fff" stroke="#0aa60a" stroke-width="1.50" stroke-linejoin="round"/><path d="M374.5,737.6L372.4,743.0L366.3,743.3L371.1,746.9L369.5,752.5L374.5,749.3L375.3,749.2L375.3,739.7Z" fill="#0aa60a" stroke="#0aa60a" stroke-width="1.50" stroke-linejoin="round"/>
<path d="M394.8,737.6L396.9,743.0L402.9,743.3L398.2,746.9L399.8,752.5L394.8,749.3L389.7,752.5L391.3,746.9L386.6,743.3L392.7,743.0Z" fill="#fff" stroke="#0aa60a" stroke-width="1.50" stroke-linejoin="round"/><path d="M394.8,737.6L392.7,743.0L386.6,743.3L391.3,746.9L389.7,752.5L394.8,749.3L395.6,749.2L395.6,739.7Z" fill="#0aa60a" stroke="#0aa60a" stroke-width="1.50" stroke-linejoin="round"/>
<path d="M415.0,739.2L417.2,744.6L423.2,744.9L418.5,748.5L420.1,754.1L415.0,750.9L410.0,754.1L411.6,748.5L406.9,744.9L412.9,744.6Z" fill="#fff" stroke="#0aa60a" stroke-width="1.50" stroke-linejoin="round"/><path d="M415.0,739.2L412.9,744.6L406.9,744.9L411.6,748.5L410.0,754.1L415.0,750.9L415.8,750.7L415.8,741.2Z" fill="#0aa60a" stroke="#0aa60a" stroke-width="1.50" stroke-linejoin="round"/>
<path d="M435.3,738.7L437.4,744.2L443.5,744.4L438.7,748.1L440.4,753.7L435.3,750.4L430.3,753.7L431.9,748.1L427.2,744.4L433.2,744.2Z" fill="#fff" stroke="#0aa60a" stroke-width="1.50" stroke-linejoin="round"/><path d="M435.3,738.7L433.2,744.2L427.2,744.4L431.9,748.1L430.3,753.7L435.3,750.4L436.1,750.3L436.1,740.8Z" fill="#0aa60a" stroke="#0aa60a" stroke-width="1.50" stroke-linejoin="round"/>
<path d="M455.6,738.7L457.7,744.2L463.7,744.4L459.0,748.1L460.6,753.7L455.6,750.4L450.6,753.7L452.2,748.1L447.5,744.4L453.5,744.2Z" fill="#fff" stroke="#0aa60a" stroke-width="1.50" stroke-linejoin="round"/><path d="M455.6,738.7L453.5,744.2L447.5,744.4L452.2,748.1L450.6,753.7L455.6,750.4L456.4,750.3L456.4,740.8Z" fill="#0aa60a" stroke="#0aa60a" stroke-width="1.50" stroke-linejoin="round"/>
<path d="M475.9,739.9L478.0,745.3L484.0,745.6L479.3,749.2L480.9,754.8L475.9,751.6L470.9,754.8L472.5,749.2L467.8,745.6L473.8,745.3Z" fill="#fff" stroke="#0aa60a" stroke-width="1.50" stroke-linejoin="round"/><path d="M475.9,739.9L473.8,745.3L467.8,745.6L472.5,749.2L470.9,754.8L475.9,751.6L476.7,751.4L476.7,741.9Z" fill="#0aa60a" stroke="#0aa60a" stroke-width="1.50" stroke-linejoin="round"/>
<path d="M496.2,742.8L498.3,748.2L504.3,748.5L499.6,752.1L501.2,757.7L496.2,754.5L491.2,757.7L492.8,752.1L488.0,748.5L494.1,748.2Z" fill="#fff" stroke="#0aa60a" stroke-width="1.50" stroke-linejoin="round"/><path d="M496.2,742.8L494.1,748.2L488.0,748.5L492.8,752.1L491.2,757.7L496.2,754.5L497.0,754.3L497.0,744.9Z" fill="#0aa60a" stroke="#0aa60a" stroke-width="1.50" stroke-linejoin="round"/>
<path d="M516.5,743.2L518.6,748.7L524.6,748.9L519.9,752.6L521.5,758.2L516.5,755.0L511.4,758.2L513.0,752.6L508.3,748.9L514.4,748.7Z" fill="#fff" stroke="#0aa60a" stroke-width="1.50" stroke-linejoin="round"/><path d="M516.5,743.2L514.4,748.7L508.3,748.9L513.0,752.6L511.4,758.2L516.5,755.0L517.3,754.8L517.3,745.3Z" fill="#0aa60a" stroke="#0aa60a" stroke-width="1.50" stroke-linejoin="round"/>
<path d="M536.7,741.0L538.9,746.4L544.9,746.7L540.2,750.3L541.8,755.9L536.7,752.7L531.7,755.9L533.3,750.3L528.6,746.7L534.6,746.4Z" fill="#fff" stroke="#0aa60a" stroke-width="1.50" stroke-linejoin="round"/><path d="M536.7,741.0L534.6,746.4L528.6,746.7L533.3,750.3L531.7,755.9L536.7,752.7L537.5,752.5L537.5,743.1Z" fill="#0aa60a" stroke="#0aa60a" stroke-width="1.50" stroke-linejoin="round"/>
<path d="M557.0,742.8L559.1,748.2L565.2,748.5L560.4,752.1L562.1,757.7L557.0,754.5L552.0,757.7L553.6,752.1L548.9,748.5L554.9,748.2Z" fill="#fff" stroke="#0aa60a" stroke-width="1.50" stroke-linejoin="round"/><path d="M557.0,742.8L554.9,748.2L548.9,748.5L553.6,752.1L552.0,757.7L557.0,754.5L557.8,754.3L557.8,744.9Z" fill="#0aa60a" stroke="#0aa60a" stroke-width="1.50" stroke-linejoin="round"/>
<path d="M577.3,744.4L579.4,749.8L585.4,750.1L580.7,753.7L582.3,759.3L577.3,756.1L572.3,759.3L573.9,753.7L569.2,750.1L575.2,749.8Z" fill="#fff" stroke="#0aa60a" stroke-width="1.50" stroke-linejoin="round"/><path d="M577.3,744.4L575.2,749.8L569.2,750.1L573.9,753.7L572.3,759.3L577.3,756.1L578.1,755.9L578.1,746.4Z" fill="#0aa60a" stroke="#0aa60a" stroke-width="1.50" stroke-linejoin="round"/>
<path d="M597.6,744.4L599.7,749.8L605.7,750.1L601.0,753.7L602.6,759.3L597.6,756.1L592.6,759.3L594.2,753.7L589.5,750.1L595.5,749.8Z" fill="#fff" stroke="#0aa60a" stroke-width="1.50" stroke-linejoin="round"/><path d="M597.6,744.4L595.5,749.8L589.5,750.1L594.2,753.7L592.6,759.3L597.6,756.1L598.4,755.9L598.4,746.4Z" fill="#0aa60a" stroke="#0aa60a" stroke-width="1.50" stroke-linejoin="round"/>
<path d="M617.9,741.4L620.0,746.9L626.0,747.1L621.3,750.8L622.9,756.4L617.9,753.2L612.9,756.4L614.5,750.8L609.7,747.1L615.8,746.9Z" fill="#fff" stroke="#0aa60a" stroke-width="1.50" stroke-linejoin="round"/><path d="M617.9,741.4L615.8,746.9L609.7,747.1L614.5,750.8L612.9,756.4L617.9,753.2L618.7,753.0L618.7,743.5Z" fill="#0aa60a" stroke="#0aa60a" stroke-width="1.50" stroke-linejoin="round"/>
<path d="M638.2,741.4L640.3,746.9L646.3,747.1L641.6,750.8L643.2,756.4L638.2,753.2L633.1,756.4L634.7,750.8L630.0,747.1L636.0,746.9Z" fill="#fff" stroke="#0aa60a" stroke-width="1.50" stroke-linejoin="round"/><path d="M638.2,741.4L636.0,746.9L630.0,747.1L634.7,750.8L633.1,756.4L638.2,753.2L639.0,753.0L639.0,743.5Z" fill="#0aa60a" stroke="#0aa60a" stroke-width="1.50" stroke-linejoin="round"/>
<path d="M658.4,739.2L660.6,744.6L666.6,744.9L661.9,748.5L663.5,754.1L658.4,750.9L653.4,754.1L655.0,748.5L650.3,744.9L656.3,744.6Z" fill="#fff" stroke="#0aa60a" stroke-width="1.50" stroke-linejoin="round"/><path d="M658.4,739.2L656.3,744.6L650.3,744.9L655.0,748.5L653.4,754.1L658.4,750.9L659.2,750.7L659.2,741.2Z" fill="#0aa60a" stroke="#0aa60a" stroke-width="1.50" stroke-linejoin="round"/>
<path d="M678.7,740.5L680.8,746.0L686.9,746.2L682.1,749.9L683.8,755.5L678.7,752.3L673.7,755.5L675.3,749.9L670.6,746.2L676.6,746.0Z" fill="#fff" stroke="#0aa60a" stroke-width="1.50" stroke-linejoin="round"/><path d="M678.7,740.5L676.6,746.0L670.6,746.2L675.3,749.9L673.7,755.5L678.7,752.3L679.5,752.1L679.5,742.6Z" fill="#0aa60a" stroke="#0aa60a" stroke-width="1.50" stroke-linejoin="round"/>
<path d="M699.0,738.7L701.1,744.2L707.1,744.4L702.4,748.1L704.0,753.7L699.0,750.4L694.0,753.7L695.6,748.1L690.9,744.4L696.9,744.2Z" fill="#fff" stroke="#0aa60a" stroke-width="1.50" stroke-linejoin="round"/><path d="M699.0,738.7L696.9,744.2L690.9,744.4L695.6,748.1L694.0,753.7L699.0,750.4L699.8,750.3L699.8,740.8Z" fill="#0aa60a" stroke="#0aa60a" stroke-width="1.50" stroke-linejoin="round"/>
<path d="M719.3,737.6L721.4,743.0L727.4,743.3L722.7,746.9L724.3,752.5L719.3,749.3L714.3,752.5L715.9,746.9L711.2,743.3L717.2,743.0Z" fill="#fff" stroke="#0aa60a" stroke-width="1.50" stroke-linejoin="round"/><path d="M719.3,737.6L717.2,743.0L711.2,743.3L715.9,746.9L714.3,752.5L719.3,749.3L720.1,749.2L720.1,739.7Z" fill="#0aa60a" stroke="#0aa60a" stroke-width="1.50" stroke-linejoin="round"/>
<path d="M739.6,737.6L741.7,743.0L747.7,743.3L743.0,746.9L744.6,752.5L739.6,749.3L734.5,752.5L736.2,746.9L731.4,743.3L737.5,743.0Z" fill="#fff" stroke="#0aa60a" stroke-width="1.50" stroke-linejoin="round"/><path d="M739.6,737.6L737.5,743.0L731.4,743.3L736.2,746.9L734.5,752.5L739.6,749.3L740.4,749.2L740.4,739.7Z" fill="#0aa60a" stroke="#0aa60a" stroke-width="1.50" stroke-linejoin="round"/>
<path d="M759.9,737.6L762.0,743.0L768.0,743.3L763.3,746.9L764.9,752.5L759.9,749.3L754.8,752.5L756.4,746.9L751.7,743.3L757.7,743.0Z" fill="#fff" stroke="#0aa60a" stroke-width="1.50" stroke-linejoin="round"/><path d="M759.9,737.6L757.7,743.0L751.7,743.3L756.4,746.9L754.8,752.5L759.9,749.3L760.7,749.2L760.7,739.7Z" fill="#0aa60a" stroke="#0aa60a" stroke-width="1.50" stroke-linejoin="round"/>
<line x1="117.4" y1="927.9" x2="124.4" y2="913.7" stroke="#8a2020" stroke-width="1.3"/>
<path d="M110.8,931.3L113.4,937.9L120.8,938.2L115.0,942.6L117.0,949.5L110.8,945.5L104.6,949.5L106.6,942.6L100.8,938.2L108.2,937.9Z" fill="#fff" stroke="#ff0000" stroke-width="1.50" stroke-linejoin="round"/><path d="M110.8,931.3L108.2,937.9L100.8,938.2L106.6,942.6L104.6,949.5L110.8,945.5L111.6,945.3L111.6,933.8Z" fill="#ff0000" stroke="#ff0000" stroke-width="1.50" stroke-linejoin="round"/>
<path d="M131.1,890.2L133.7,896.8L141.1,897.1L135.3,901.5L137.3,908.4L131.1,904.5L124.9,908.4L126.9,901.5L121.0,897.1L128.5,896.8Z" fill="#fff" stroke="#ff0000" stroke-width="1.50" stroke-linejoin="round"/><path d="M131.1,890.2L128.5,896.8L121.0,897.1L126.9,901.5L124.9,908.4L131.1,904.5L131.9,904.3L131.9,892.7Z" fill="#ff0000" stroke="#ff0000" stroke-width="1.50" stroke-linejoin="round"/>
<path d="M151.4,895.8L154.0,902.5L161.4,902.8L155.6,907.2L157.6,914.0L151.4,910.1L145.2,914.0L147.2,907.2L141.3,902.8L148.8,902.5Z" fill="#fff" stroke="#ff0000" stroke-width="1.50" stroke-linejoin="round"/><path d="M151.4,895.8L148.8,902.5L141.3,902.8L147.2,907.2L145.2,914.0L151.4,910.1L152.2,909.9L152.2,898.3Z" fill="#ff0000" stroke="#ff0000" stroke-width="1.50" stroke-linejoin="round"/>
<path d="M171.6,897.0L174.3,903.6L181.7,903.9L175.9,908.3L177.9,915.1L171.6,911.2L165.4,915.1L167.4,908.3L161.6,903.9L169.0,903.6Z" fill="#fff" stroke="#ff0000" stroke-width="1.50" stroke-linejoin="round"/><path d="M171.6,897.0L169.0,903.6L161.6,903.9L167.4,908.3L165.4,915.1L171.6,911.2L172.4,911.0L172.4,899.5Z" fill="#ff0000" stroke="#ff0000" stroke-width="1.50" stroke-linejoin="round"/>
<path d="M191.9,901.0L194.5,907.7L202.0,908.0L196.1,912.4L198.1,919.2L191.9,915.3L185.7,919.2L187.7,912.4L181.9,908.0L189.3,907.7Z" fill="#fff" stroke="#ff0000" stroke-width="1.50" stroke-linejoin="round"/><path d="M191.9,901.0L189.3,907.7L181.9,908.0L187.7,912.4L185.7,919.2L191.9,915.3L192.7,915.1L192.7,903.5Z" fill="#ff0000" stroke="#ff0000" stroke-width="1.50" stroke-linejoin="round"/>
<path d="M212.2,902.6L214.8,909.2L222.2,909.5L216.4,914.0L218.4,920.8L212.2,916.9L206.0,920.8L208.0,914.0L202.2,909.5L209.6,909.2Z" fill="#fff" stroke="#ff0000" stroke-width="1.50" stroke-linejoin="round"/><path d="M212.2,902.6L209.6,909.2L202.2,909.5L208.0,914.0L206.0,920.8L212.2,916.9L213.0,916.7L213.0,905.1Z" fill="#ff0000" stroke="#ff0000" stroke-width="1.50" stroke-linejoin="round"/>
<path d="M232.5,901.0L235.1,907.7L242.5,908.0L236.7,912.4L238.7,919.2L232.5,915.3L226.3,919.2L228.3,912.4L222.5,908.0L229.9,907.7Z" fill="#fff" stroke="#ff0000" stroke-width="1.50" stroke-linejoin="round"/><path d="M232.5,901.0L229.9,907.7L222.5,908.0L228.3,912.4L226.3,919.2L232.5,915.3L233.3,915.1L233.3,903.5Z" fill="#ff0000" stroke="#ff0000" stroke-width="1.50" stroke-linejoin="round"/>
<path d="M252.8,901.0L255.4,907.7L262.8,908.0L257.0,912.4L259.0,919.2L252.8,915.3L246.6,919.2L248.6,912.4L242.7,908.0L250.2,907.7Z" fill="#fff" stroke="#ff0000" stroke-width="1.50" stroke-linejoin="round"/><path d="M252.8,901.0L250.2,907.7L242.7,908.0L248.6,912.4L246.6,919.2L252.8,915.3L253.6,915.1L253.6,903.5Z" fill="#ff0000" stroke="#ff0000" stroke-width="1.50" stroke-linejoin="round"/>
<path d="M273.1,902.6L275.7,909.2L283.1,909.5L277.3,914.0L279.3,920.8L273.1,916.9L266.9,920.8L268.9,914.0L263.0,909.5L270.5,909.2Z" fill="#fff" stroke="#ff0000" stroke-width="1.50" stroke-linejoin="round"/><path d="M273.1,902.6L270.5,909.2L263.0,909.5L268.9,914.0L266.9,920.8L273.1,916.9L273.9,916.7L273.9,905.1Z" fill="#ff0000" stroke="#ff0000" stroke-width="1.50" stroke-linejoin="round"/>
<path d="M293.3,901.0L296.0,907.7L303.4,908.0L297.6,912.4L299.5,919.2L293.3,915.3L287.1,919.2L289.1,912.4L283.3,908.0L290.7,907.7Z" fill="#fff" stroke="#ff0000" stroke-width="1.50" stroke-linejoin="round"/><path d="M293.3,901.0L290.7,907.7L283.3,908.0L289.1,912.4L287.1,919.2L293.3,915.3L294.1,915.1L294.1,903.5Z" fill="#ff0000" stroke="#ff0000" stroke-width="1.50" stroke-linejoin="round"/>
<path d="M313.6,900.3L316.2,907.0L323.7,907.3L317.8,911.7L319.8,918.5L313.6,914.6L307.4,918.5L309.4,911.7L303.6,907.3L311.0,907.0Z" fill="#fff" stroke="#ff0000" stroke-width="1.50" stroke-linejoin="round"/><path d="M313.6,900.3L311.0,907.0L303.6,907.3L309.4,911.7L307.4,918.5L313.6,914.6L314.4,914.4L314.4,902.9Z" fill="#ff0000" stroke="#ff0000" stroke-width="1.50" stroke-linejoin="round"/>
<path d="M333.9,901.0L336.5,907.7L343.9,908.0L338.1,912.4L340.1,919.2L333.9,915.3L327.7,919.2L329.7,912.4L323.9,908.0L331.3,907.7Z" fill="#fff" stroke="#ff0000" stroke-width="1.50" stroke-linejoin="round"/><path d="M333.9,901.0L331.3,907.7L323.9,908.0L329.7,912.4L327.7,919.2L333.9,915.3L334.7,915.1L334.7,903.5Z" fill="#ff0000" stroke="#ff0000" stroke-width="1.50" stroke-linejoin="round"/>
<path d="M354.2,901.9L356.8,908.6L364.2,908.9L358.4,913.3L360.4,920.1L354.2,916.2L348.0,920.1L350.0,913.3L344.2,908.9L351.6,908.6Z" fill="#fff" stroke="#ff0000" stroke-width="1.50" stroke-linejoin="round"/><path d="M354.2,901.9L351.6,908.6L344.2,908.9L350.0,913.3L348.0,920.1L354.2,916.2L355.0,916.0L355.0,904.4Z" fill="#ff0000" stroke="#ff0000" stroke-width="1.50" stroke-linejoin="round"/>
<path d="M374.5,902.6L377.1,909.2L384.5,909.5L378.7,914.0L380.7,920.8L374.5,916.9L368.3,920.8L370.3,914.0L364.4,909.5L371.9,909.2Z" fill="#fff" stroke="#ff0000" stroke-width="1.50" stroke-linejoin="round"/><path d="M374.5,902.6L371.9,909.2L364.4,909.5L370.3,914.0L368.3,920.8L374.5,916.9L375.3,916.7L375.3,905.1Z" fill="#ff0000" stroke="#ff0000" stroke-width="1.50" stroke-linejoin="round"/>
<path d="M394.8,901.0L397.4,907.7L404.8,908.0L399.0,912.4L401.0,919.2L394.8,915.3L388.6,919.2L390.5,912.4L384.7,908.0L392.2,907.7Z" fill="#fff" stroke="#ff0000" stroke-width="1.50" stroke-linejoin="round"/><path d="M394.8,901.0L392.2,907.7L384.7,908.0L390.5,912.4L388.6,919.2L394.8,915.3L395.6,915.1L395.6,903.5Z" fill="#ff0000" stroke="#ff0000" stroke-width="1.50" stroke-linejoin="round"/>
<path d="M415.0,900.3L417.7,907.0L425.1,907.3L419.3,911.7L421.2,918.5L415.0,914.6L408.8,918.5L410.8,911.7L405.0,907.3L412.4,907.0Z" fill="#fff" stroke="#ff0000" stroke-width="1.50" stroke-linejoin="round"/><path d="M415.0,900.3L412.4,907.0L405.0,907.3L410.8,911.7L408.8,918.5L415.0,914.6L415.8,914.4L415.8,902.9Z" fill="#ff0000" stroke="#ff0000" stroke-width="1.50" stroke-linejoin="round"/>
<path d="M435.3,902.4L437.9,909.0L445.4,909.3L439.5,913.7L441.5,920.6L435.3,916.6L429.1,920.6L431.1,913.7L425.3,909.3L432.7,909.0Z" fill="#fff" stroke="#ff0000" stroke-width="1.50" stroke-linejoin="round"/><path d="M435.3,902.4L432.7,909.0L425.3,909.3L431.1,913.7L429.1,920.6L435.3,916.6L436.1,916.4L436.1,904.9Z" fill="#ff0000" stroke="#ff0000" stroke-width="1.50" stroke-linejoin="round"/>
<path d="M455.6,901.0L458.2,907.7L465.6,908.0L459.8,912.4L461.8,919.2L455.6,915.3L449.4,919.2L451.4,912.4L445.6,908.0L453.0,907.7Z" fill="#fff" stroke="#ff0000" stroke-width="1.50" stroke-linejoin="round"/><path d="M455.6,901.0L453.0,907.7L445.6,908.0L451.4,912.4L449.4,919.2L455.6,915.3L456.4,915.1L456.4,903.5Z" fill="#ff0000" stroke="#ff0000" stroke-width="1.50" stroke-linejoin="round"/>
<path d="M475.9,899.7L478.5,906.3L485.9,906.6L480.1,911.0L482.1,917.8L475.9,913.9L469.7,917.8L471.7,911.0L465.9,906.6L473.3,906.3Z" fill="#fff" stroke="#ff0000" stroke-width="1.50" stroke-linejoin="round"/><path d="M475.9,899.7L473.3,906.3L465.9,906.6L471.7,911.0L469.7,917.8L475.9,913.9L476.7,913.7L476.7,902.2Z" fill="#ff0000" stroke="#ff0000" stroke-width="1.50" stroke-linejoin="round"/>
<path d="M496.2,897.0L498.8,903.6L506.2,903.9L500.4,908.3L502.4,915.1L496.2,911.2L490.0,915.1L492.0,908.3L486.1,903.9L493.6,903.6Z" fill="#fff" stroke="#ff0000" stroke-width="1.50" stroke-linejoin="round"/><path d="M496.2,897.0L493.6,903.6L486.1,903.9L492.0,908.3L490.0,915.1L496.2,911.2L497.0,911.0L497.0,899.5Z" fill="#ff0000" stroke="#ff0000" stroke-width="1.50" stroke-linejoin="round"/>
<path d="M516.5,896.5L519.1,903.1L526.5,903.4L520.7,907.9L522.7,914.7L516.5,910.8L510.3,914.7L512.2,907.9L506.4,903.4L513.9,903.1Z" fill="#fff" stroke="#ff0000" stroke-width="1.50" stroke-linejoin="round"/><path d="M516.5,896.5L513.9,903.1L506.4,903.4L512.2,907.9L510.3,914.7L516.5,910.8L517.3,910.6L517.3,899.0Z" fill="#ff0000" stroke="#ff0000" stroke-width="1.50" stroke-linejoin="round"/>
<path d="M536.7,899.2L539.3,905.8L546.8,906.2L541.0,910.6L542.9,917.4L536.7,913.5L530.5,917.4L532.5,910.6L526.7,906.2L534.1,905.8Z" fill="#fff" stroke="#ff0000" stroke-width="1.50" stroke-linejoin="round"/><path d="M536.7,899.2L534.1,905.8L526.7,906.2L532.5,910.6L530.5,917.4L536.7,913.5L537.5,913.3L537.5,901.7Z" fill="#ff0000" stroke="#ff0000" stroke-width="1.50" stroke-linejoin="round"/>
<path d="M557.0,898.1L559.6,904.7L567.1,905.0L561.2,909.4L563.2,916.3L557.0,912.4L550.8,916.3L552.8,909.4L547.0,905.0L554.4,904.7Z" fill="#fff" stroke="#ff0000" stroke-width="1.50" stroke-linejoin="round"/><path d="M557.0,898.1L554.4,904.7L547.0,905.0L552.8,909.4L550.8,916.3L557.0,912.4L557.8,912.2L557.8,900.6Z" fill="#ff0000" stroke="#ff0000" stroke-width="1.50" stroke-linejoin="round"/>
<path d="M577.3,898.1L579.9,904.7L587.3,905.0L581.5,909.4L583.5,916.3L577.3,912.4L571.1,916.3L573.1,909.4L567.3,905.0L574.7,904.7Z" fill="#fff" stroke="#ff0000" stroke-width="1.50" stroke-linejoin="round"/><path d="M577.3,898.1L574.7,904.7L567.3,905.0L573.1,909.4L571.1,916.3L577.3,912.4L578.1,912.2L578.1,900.6Z" fill="#ff0000" stroke="#ff0000" stroke-width="1.50" stroke-linejoin="round"/>
<path d="M597.6,898.1L600.2,904.7L607.6,905.0L601.8,909.4L603.8,916.3L597.6,912.4L591.4,916.3L593.4,909.4L587.6,905.0L595.0,904.7Z" fill="#fff" stroke="#ff0000" stroke-width="1.50" stroke-linejoin="round"/><path d="M597.6,898.1L595.0,904.7L587.6,905.0L593.4,909.4L591.4,916.3L597.6,912.4L598.4,912.2L598.4,900.6Z" fill="#ff0000" stroke="#ff0000" stroke-width="1.50" stroke-linejoin="round"/>
<path d="M617.9,901.0L620.5,907.7L627.9,908.0L622.1,912.4L624.1,919.2L617.9,915.3L611.7,919.2L613.7,912.4L607.8,908.0L615.3,907.7Z" fill="#fff" stroke="#ff0000" stroke-width="1.50" stroke-linejoin="round"/><path d="M617.9,901.0L615.3,907.7L607.8,908.0L613.7,912.4L611.7,919.2L617.9,915.3L618.7,915.1L618.7,903.5Z" fill="#ff0000" stroke="#ff0000" stroke-width="1.50" stroke-linejoin="round"/>
<path d="M638.2,898.8L640.8,905.4L648.2,905.7L642.4,910.1L644.4,916.9L638.2,913.0L632.0,916.9L633.9,910.1L628.1,905.7L635.6,905.4Z" fill="#fff" stroke="#ff0000" stroke-width="1.50" stroke-linejoin="round"/><path d="M638.2,898.8L635.6,905.4L628.1,905.7L633.9,910.1L632.0,916.9L638.2,913.0L639.0,912.8L639.0,901.3Z" fill="#ff0000" stroke="#ff0000" stroke-width="1.50" stroke-linejoin="round"/>
<path d="M658.4,901.0L661.0,907.7L668.5,908.0L662.7,912.4L664.6,919.2L658.4,915.3L652.2,919.2L654.2,912.4L648.4,908.0L655.8,907.7Z" fill="#fff" stroke="#ff0000" stroke-width="1.50" stroke-linejoin="round"/><path d="M658.4,901.0L655.8,907.7L648.4,908.0L654.2,912.4L652.2,919.2L658.4,915.3L659.2,915.1L659.2,903.5Z" fill="#ff0000" stroke="#ff0000" stroke-width="1.50" stroke-linejoin="round"/>
<path d="M678.7,901.0L681.3,907.7L688.8,908.0L682.9,912.4L684.9,919.2L678.7,915.3L672.5,919.2L674.5,912.4L668.7,908.0L676.1,907.7Z" fill="#fff" stroke="#ff0000" stroke-width="1.50" stroke-linejoin="round"/><path d="M678.7,901.0L676.1,907.7L668.7,908.0L674.5,912.4L672.5,919.2L678.7,915.3L679.5,915.1L679.5,903.5Z" fill="#ff0000" stroke="#ff0000" stroke-width="1.50" stroke-linejoin="round"/>
<path d="M699.0,902.6L701.6,909.2L709.0,909.5L703.2,914.0L705.2,920.8L699.0,916.9L692.8,920.8L694.8,914.0L689.0,909.5L696.4,909.2Z" fill="#fff" stroke="#ff0000" stroke-width="1.50" stroke-linejoin="round"/><path d="M699.0,902.6L696.4,909.2L689.0,909.5L694.8,914.0L692.8,920.8L699.0,916.9L699.8,916.7L699.8,905.1Z" fill="#ff0000" stroke="#ff0000" stroke-width="1.50" stroke-linejoin="round"/>
<path d="M719.3,903.3L721.9,909.9L729.3,910.2L723.5,914.6L725.5,921.5L719.3,917.5L713.1,921.5L715.1,914.6L709.3,910.2L716.7,909.9Z" fill="#fff" stroke="#ff0000" stroke-width="1.50" stroke-linejoin="round"/><path d="M719.3,903.3L716.7,909.9L709.3,910.2L715.1,914.6L713.1,921.5L719.3,917.5L720.1,917.3L720.1,905.8Z" fill="#ff0000" stroke="#ff0000" stroke-width="1.50" stroke-linejoin="round"/>
<path d="M739.6,903.3L742.2,909.9L749.6,910.2L743.8,914.6L745.8,921.5L739.6,917.5L733.4,921.5L735.4,914.6L729.5,910.2L737.0,909.9Z" fill="#fff" stroke="#ff0000" stroke-width="1.50" stroke-linejoin="round"/><path d="M739.6,903.3L737.0,909.9L729.5,910.2L735.4,914.6L733.4,921.5L739.6,917.5L740.4,917.3L740.4,905.8Z" fill="#ff0000" stroke="#ff0000" stroke-width="1.50" stroke-linejoin="round"/>
<path d="M759.9,902.6L762.5,909.2L769.9,909.5L764.1,914.0L766.1,920.8L759.9,916.9L753.7,920.8L755.6,914.0L749.8,909.5L757.3,909.2Z" fill="#fff" stroke="#ff0000" stroke-width="1.50" stroke-linejoin="round"/><path d="M759.9,902.6L757.3,909.2L749.8,909.5L755.6,914.0L753.7,920.8L759.9,916.9L760.7,916.7L760.7,905.1Z" fill="#ff0000" stroke="#ff0000" stroke-width="1.50" stroke-linejoin="round"/>
</g>
<text transform="translate(55.71 1187.40)" font-size="31.77" fill="#42085c" stroke="#42085c" stroke-width="0.20" letter-spacing="1.820">20</text>
<text transform="translate(56.11 1070.03)" font-size="31.77" fill="#42085c" stroke="#42085c" stroke-width="0.20" letter-spacing="1.422">30</text>
<text transform="translate(56.59 952.65)" font-size="31.77" fill="#42085c" stroke="#42085c" stroke-width="0.20" letter-spacing="0.946">40</text>
<text transform="translate(56.03 835.27)" font-size="31.77" fill="#42085c" stroke="#42085c" stroke-width="0.20" letter-spacing="1.502">50</text>
<text transform="translate(55.71 717.90)" font-size="31.77" fill="#42085c" stroke="#42085c" stroke-width="0.20" letter-spacing="1.820">60</text>
<text transform="translate(101.08 1218.90) scale(1.0249 1)" font-size="32.29" fill="#42085c" stroke="#42085c" stroke-width="0.20">0</text>
<text transform="translate(193.12 1218.90)" font-size="32.29" fill="#42085c" stroke="#42085c" stroke-width="0.20" letter-spacing="1.264">50</text>
<text transform="translate(284.81 1218.90)" font-size="32.29" fill="#42085c" stroke="#42085c" stroke-width="0.20" letter-spacing="0.797">100</text>
<text transform="translate(386.22 1218.90)" font-size="32.29" fill="#42085c" stroke="#42085c" stroke-width="0.20" letter-spacing="0.797">150</text>
<text transform="translate(488.45 1218.90)" font-size="32.29" fill="#42085c" stroke="#42085c" stroke-width="0.20" letter-spacing="0.394">200</text>
<text transform="translate(589.86 1218.90)" font-size="32.29" fill="#42085c" stroke="#42085c" stroke-width="0.20" letter-spacing="0.394">250</text>
<text transform="translate(691.68 1218.90)" font-size="32.29" fill="#42085c" stroke="#42085c" stroke-width="0.20" letter-spacing="0.192">300</text>
<text transform="translate(43.50 1147.43) rotate(-90)" font-size="33.02" fill="#42004f" stroke="#42004f" stroke-width="0.20" font-weight="bold" letter-spacing="0.099">Atomic % Silicon and Oxygen</text>
<text transform="translate(322.36 684.70) scale(0.9000 1)" font-size="32.91" fill="#000000" stroke="#000000" stroke-width="0.20" font-weight="bold" letter-spacing="2.420">Atomic % Profile</text>
<text transform="translate(318.84 1256.70)" font-size="32.29" fill="#42085c" stroke="#42085c" stroke-width="0.20" letter-spacing="0.503">Etch Depth (nm)</text>
<text transform="translate(209.98 808.60)" font-size="36.04" fill="#000000" stroke="#000000" stroke-width="0.20" letter-spacing="0.863">SRO</text>
<text transform="translate(291.66 824.00) scale(0.9793 1)" font-size="22.39" fill="#000000" stroke="#000000" stroke-width="0.20">100</text>
<text transform="translate(337.07 808.60)" font-size="36.04" fill="#000000" stroke="#000000" stroke-width="0.20" letter-spacing="0.802">as-G Oxygen</text>
<text transform="translate(206.88 968.60)" font-size="36.04" fill="#000000" stroke="#000000" stroke-width="0.20" letter-spacing="0.863">SRO</text>
<text transform="translate(288.52 983.50)" font-size="22.39" fill="#000000" stroke="#000000" stroke-width="0.20" letter-spacing="0.590">100</text>
<text transform="translate(336.07 968.60)" font-size="36.04" fill="#000000" stroke="#000000" stroke-width="0.20" letter-spacing="0.576">as-G Silicon</text>
<text transform="translate(119.44 1118.20)" font-size="33.95" fill="#15480f" stroke="#15480f" stroke-width="0.20" font-weight="bold" letter-spacing="1.642">Oxygen Deficiency -9.5 %</text>
<text transform="translate(119.78 1160.90)" font-size="33.95" fill="#8a0404" stroke="#8a0404" stroke-width="0.20" font-weight="bold" letter-spacing="1.606">Silicon Excess 10.0 %</text>
<text transform="translate(695.56 1155.70)" font-size="61.45" fill="#000000" stroke="#000000" stroke-width="0.20" letter-spacing="1.147">(c)</text>
<path d="M116.8,798.0H147.2M168.8,798.0H199.2" fill="none" stroke="#a050ff" stroke-width="1.5"/>
<path d="M158.6,788.5L160.7,793.9L166.7,794.2L162.0,797.8L163.6,803.4L158.6,800.2L153.6,803.4L155.2,797.8L150.5,794.2L156.5,793.9Z" fill="#fff" stroke="#0aa60a" stroke-width="1.50" stroke-linejoin="round"/><path d="M158.6,788.5L156.5,793.9L150.5,794.2L155.2,797.8L153.6,803.4L158.6,800.2L159.4,800.0L159.4,790.5Z" fill="#0aa60a" stroke="#0aa60a" stroke-width="1.50" stroke-linejoin="round"/>
<path d="M113.7,957.2H142.5M169.5,957.2H197.6" fill="none" stroke="#a83030" stroke-width="1.3"/>
<path d="M155.8,946.0L158.4,952.6L165.8,952.9L160.0,957.3L162.0,964.1L155.8,960.2L149.6,964.1L151.6,957.3L145.8,952.9L153.2,952.6Z" fill="#fff" stroke="#ff0000" stroke-width="1.50" stroke-linejoin="round"/><path d="M155.8,946.0L153.2,952.6L145.8,952.9L151.6,957.3L149.6,964.1L155.8,960.2L156.6,960.0L156.6,948.5Z" fill="#ff0000" stroke="#ff0000" stroke-width="1.50" stroke-linejoin="round"/>
</g>
<g id="panel-d">
<g stroke="#42004f" fill="none" stroke-linecap="round">
<line x1="873.4" y1="1180.0" x2="865.0" y2="1180.0" stroke-width="5.0"/>
<line x1="873.4" y1="1120.9" x2="869.0" y2="1120.9" stroke-width="5.0"/>
<line x1="873.4" y1="1062.2" x2="865.0" y2="1062.2" stroke-width="5.0"/>
<line x1="873.4" y1="1003.6" x2="869.0" y2="1003.6" stroke-width="5.0"/>
<line x1="873.4" y1="944.9" x2="865.0" y2="944.9" stroke-width="5.0"/>
<line x1="873.4" y1="886.2" x2="869.0" y2="886.2" stroke-width="5.0"/>
<line x1="873.4" y1="827.5" x2="865.0" y2="827.5" stroke-width="5.0"/>
<line x1="873.4" y1="768.9" x2="869.0" y2="768.9" stroke-width="5.0"/>
<line x1="873.4" y1="710.2" x2="865.0" y2="710.2" stroke-width="5.0"/>
<line x1="873.4" y1="651.0" x2="869.0" y2="651.0" stroke-width="5.0"/>
<line x1="873.4" y1="1180.0" x2="873.4" y2="1191.2" stroke-width="4.8"/>
<line x1="923.8" y1="1180.0" x2="923.8" y2="1187.2" stroke-width="4.8"/>
<line x1="974.2" y1="1180.0" x2="974.2" y2="1191.2" stroke-width="4.8"/>
<line x1="1024.6" y1="1180.0" x2="1024.6" y2="1187.2" stroke-width="4.8"/>
<line x1="1075.0" y1="1180.0" x2="1075.0" y2="1191.2" stroke-width="4.8"/>
<line x1="1125.4" y1="1180.0" x2="1125.4" y2="1187.2" stroke-width="4.8"/>
<line x1="1175.8" y1="1180.0" x2="1175.8" y2="1191.2" stroke-width="4.8"/>
<line x1="1226.3" y1="1180.0" x2="1226.3" y2="1187.2" stroke-width="4.8"/>
<line x1="1276.7" y1="1180.0" x2="1276.7" y2="1191.2" stroke-width="4.8"/>
<line x1="1327.1" y1="1180.0" x2="1327.1" y2="1187.2" stroke-width="4.8"/>
<line x1="1377.5" y1="1180.0" x2="1377.5" y2="1191.2" stroke-width="4.8"/>
<line x1="1427.9" y1="1180.0" x2="1427.9" y2="1187.2" stroke-width="4.8"/>
<line x1="1478.3" y1="1180.0" x2="1478.3" y2="1191.2" stroke-width="4.8"/>
<line x1="1528.7" y1="1180.0" x2="1528.7" y2="1187.2" stroke-width="4.8"/>
</g>
<g stroke="#42004f" fill="none" stroke-linecap="butt">
<line x1="870.9" y1="651.0" x2="1531.2" y2="651.0" stroke-width="5.4"/>
<line x1="870.9" y1="1180.0" x2="1531.2" y2="1180.0" stroke-width="5.4"/>
<line x1="873.4" y1="648.3" x2="873.4" y2="1182.7" stroke-width="5.0"/>
<line x1="1528.7" y1="648.3" x2="1528.7" y2="1182.7" stroke-width="5.0"/>
</g>
<clipPath id="clip-d"><rect x="872.9" y="651.0" width="656.3" height="529.0"/></clipPath>
<g clip-path="url(#clip-d)">
<path d="M873.4,692.7L875.3,698.6L881.7,698.5L876.5,702.1L878.5,707.9L873.4,704.3L868.3,707.9L870.3,702.1L865.1,698.5L871.5,698.6Z" fill="#fff" stroke="#0aa60a" stroke-width="1.20" stroke-linejoin="round"/><path d="M873.4,692.7L871.5,698.6L865.1,698.5L870.3,702.1L868.3,707.9L873.4,704.3L873.8,704.2L873.8,694.8Z" fill="#0aa60a" stroke="#0aa60a" stroke-width="1.20" stroke-linejoin="round"/>
<path d="M893.6,692.7L895.5,698.6L901.8,698.5L896.7,702.1L898.7,707.9L893.6,704.3L888.4,707.9L890.4,702.1L885.3,698.5L891.6,698.6Z" fill="#fff" stroke="#0aa60a" stroke-width="1.20" stroke-linejoin="round"/><path d="M893.6,692.7L891.6,698.6L885.3,698.5L890.4,702.1L888.4,707.9L893.6,704.3L894.0,704.2L894.0,694.8Z" fill="#0aa60a" stroke="#0aa60a" stroke-width="1.20" stroke-linejoin="round"/>
<path d="M913.7,692.7L915.7,698.6L922.0,698.5L916.9,702.1L918.8,707.9L913.7,704.3L908.6,707.9L910.6,702.1L905.5,698.5L911.8,698.6Z" fill="#fff" stroke="#0aa60a" stroke-width="1.20" stroke-linejoin="round"/><path d="M913.7,692.7L911.8,698.6L905.5,698.5L910.6,702.1L908.6,707.9L913.7,704.3L914.1,704.2L914.1,694.8Z" fill="#0aa60a" stroke="#0aa60a" stroke-width="1.20" stroke-linejoin="round"/>
<path d="M933.9,693.6L935.8,699.5L942.2,699.5L937.0,703.0L939.0,708.8L933.9,705.2L928.8,708.8L930.7,703.0L925.6,699.5L931.9,699.5Z" fill="#fff" stroke="#0aa60a" stroke-width="1.20" stroke-linejoin="round"/><path d="M933.9,693.6L931.9,699.5L925.6,699.5L930.7,703.0L928.8,708.8L933.9,705.2L934.3,705.1L934.3,695.7Z" fill="#0aa60a" stroke="#0aa60a" stroke-width="1.20" stroke-linejoin="round"/>
<path d="M954.1,692.7L956.0,698.6L962.3,698.5L957.2,702.1L959.2,707.9L954.1,704.3L948.9,707.9L950.9,702.1L945.8,698.5L952.1,698.6Z" fill="#fff" stroke="#0aa60a" stroke-width="1.20" stroke-linejoin="round"/><path d="M954.1,692.7L952.1,698.6L945.8,698.5L950.9,702.1L948.9,707.9L954.1,704.3L954.5,704.2L954.5,694.8Z" fill="#0aa60a" stroke="#0aa60a" stroke-width="1.20" stroke-linejoin="round"/>
<path d="M974.2,692.7L976.2,698.6L982.5,698.5L977.4,702.1L979.3,707.9L974.2,704.3L969.1,707.9L971.1,702.1L965.9,698.5L972.3,698.6Z" fill="#fff" stroke="#0aa60a" stroke-width="1.20" stroke-linejoin="round"/><path d="M974.2,692.7L972.3,698.6L965.9,698.5L971.1,702.1L969.1,707.9L974.2,704.3L974.6,704.2L974.6,694.8Z" fill="#0aa60a" stroke="#0aa60a" stroke-width="1.20" stroke-linejoin="round"/>
<path d="M994.4,692.7L996.3,698.6L1002.7,698.5L997.5,702.1L999.5,707.9L994.4,704.3L989.3,707.9L991.2,702.1L986.1,698.5L992.4,698.6Z" fill="#fff" stroke="#0aa60a" stroke-width="1.20" stroke-linejoin="round"/><path d="M994.4,692.7L992.4,698.6L986.1,698.5L991.2,702.1L989.3,707.9L994.4,704.3L994.8,704.2L994.8,694.8Z" fill="#0aa60a" stroke="#0aa60a" stroke-width="1.20" stroke-linejoin="round"/>
<path d="M1014.5,690.9L1016.5,696.8L1022.8,696.7L1017.7,700.3L1019.7,706.1L1014.5,702.5L1009.4,706.1L1011.4,700.3L1006.3,696.7L1012.6,696.8Z" fill="#fff" stroke="#0aa60a" stroke-width="1.20" stroke-linejoin="round"/><path d="M1014.5,690.9L1012.6,696.8L1006.3,696.7L1011.4,700.3L1009.4,706.1L1014.5,702.5L1014.9,702.4L1014.9,693.0Z" fill="#0aa60a" stroke="#0aa60a" stroke-width="1.20" stroke-linejoin="round"/>
<path d="M1034.7,693.6L1036.6,699.5L1043.0,699.5L1037.8,703.0L1039.8,708.8L1034.7,705.2L1029.6,708.8L1031.6,703.0L1026.4,699.5L1032.8,699.5Z" fill="#fff" stroke="#0aa60a" stroke-width="1.20" stroke-linejoin="round"/><path d="M1034.7,693.6L1032.8,699.5L1026.4,699.5L1031.6,703.0L1029.6,708.8L1034.7,705.2L1035.1,705.1L1035.1,695.7Z" fill="#0aa60a" stroke="#0aa60a" stroke-width="1.20" stroke-linejoin="round"/>
<path d="M1054.9,692.7L1056.8,698.6L1063.1,698.5L1058.0,702.1L1060.0,707.9L1054.9,704.3L1049.8,707.9L1051.7,702.1L1046.6,698.5L1052.9,698.6Z" fill="#fff" stroke="#0aa60a" stroke-width="1.20" stroke-linejoin="round"/><path d="M1054.9,692.7L1052.9,698.6L1046.6,698.5L1051.7,702.1L1049.8,707.9L1054.9,704.3L1055.3,704.2L1055.3,694.8Z" fill="#0aa60a" stroke="#0aa60a" stroke-width="1.20" stroke-linejoin="round"/>
<path d="M1075.0,694.3L1077.0,700.1L1083.3,700.1L1078.2,703.7L1080.1,709.5L1075.0,705.9L1069.9,709.5L1071.9,703.7L1066.8,700.1L1073.1,700.1Z" fill="#fff" stroke="#0aa60a" stroke-width="1.20" stroke-linejoin="round"/><path d="M1075.0,694.3L1073.1,700.1L1066.8,700.1L1071.9,703.7L1069.9,709.5L1075.0,705.9L1075.4,705.7L1075.4,696.4Z" fill="#0aa60a" stroke="#0aa60a" stroke-width="1.20" stroke-linejoin="round"/>
<path d="M1095.2,694.3L1097.1,700.1L1103.5,700.1L1098.3,703.7L1100.3,709.5L1095.2,705.9L1090.1,709.5L1092.0,703.7L1086.9,700.1L1093.3,700.1Z" fill="#fff" stroke="#0aa60a" stroke-width="1.20" stroke-linejoin="round"/><path d="M1095.2,694.3L1093.3,700.1L1086.9,700.1L1092.0,703.7L1090.1,709.5L1095.2,705.9L1095.6,705.7L1095.6,696.4Z" fill="#0aa60a" stroke="#0aa60a" stroke-width="1.20" stroke-linejoin="round"/>
<path d="M1115.4,690.5L1117.3,696.3L1123.6,696.3L1118.5,699.9L1120.5,705.7L1115.4,702.1L1110.2,705.7L1112.2,699.9L1107.1,696.3L1113.4,696.3Z" fill="#fff" stroke="#0aa60a" stroke-width="1.20" stroke-linejoin="round"/><path d="M1115.4,690.5L1113.4,696.3L1107.1,696.3L1112.2,699.9L1110.2,705.7L1115.4,702.1L1115.8,701.9L1115.8,692.6Z" fill="#0aa60a" stroke="#0aa60a" stroke-width="1.20" stroke-linejoin="round"/>
<path d="M1135.5,690.5L1137.5,696.3L1143.8,696.3L1138.7,699.9L1140.6,705.7L1135.5,702.1L1130.4,705.7L1132.4,699.9L1127.2,696.3L1133.6,696.3Z" fill="#fff" stroke="#0aa60a" stroke-width="1.20" stroke-linejoin="round"/><path d="M1135.5,690.5L1133.6,696.3L1127.2,696.3L1132.4,699.9L1130.4,705.7L1135.5,702.1L1135.9,701.9L1135.9,692.6Z" fill="#0aa60a" stroke="#0aa60a" stroke-width="1.20" stroke-linejoin="round"/>
<path d="M1155.7,687.6L1157.6,693.4L1164.0,693.4L1158.8,696.9L1160.8,702.7L1155.7,699.1L1150.6,702.7L1152.5,696.9L1147.4,693.4L1153.7,693.4Z" fill="#fff" stroke="#0aa60a" stroke-width="1.20" stroke-linejoin="round"/><path d="M1155.7,687.6L1153.7,693.4L1147.4,693.4L1152.5,696.9L1150.6,702.7L1155.7,699.1L1156.1,699.0L1156.1,689.7Z" fill="#0aa60a" stroke="#0aa60a" stroke-width="1.20" stroke-linejoin="round"/>
<path d="M1175.8,689.8L1177.8,695.6L1184.1,695.6L1179.0,699.2L1181.0,705.0L1175.8,701.4L1170.7,705.0L1172.7,699.2L1167.6,695.6L1173.9,695.6Z" fill="#fff" stroke="#0aa60a" stroke-width="1.20" stroke-linejoin="round"/><path d="M1175.8,689.8L1173.9,695.6L1167.6,695.6L1172.7,699.2L1170.7,705.0L1175.8,701.4L1176.2,701.2L1176.2,691.9Z" fill="#0aa60a" stroke="#0aa60a" stroke-width="1.20" stroke-linejoin="round"/>
<path d="M1196.0,688.2L1198.0,694.0L1204.3,694.0L1199.2,697.6L1201.1,703.4L1196.0,699.8L1190.9,703.4L1192.9,697.6L1187.7,694.0L1194.1,694.0Z" fill="#fff" stroke="#0aa60a" stroke-width="1.20" stroke-linejoin="round"/><path d="M1196.0,688.2L1194.1,694.0L1187.7,694.0L1192.9,697.6L1190.9,703.4L1196.0,699.8L1196.4,699.7L1196.4,690.3Z" fill="#0aa60a" stroke="#0aa60a" stroke-width="1.20" stroke-linejoin="round"/>
<path d="M1216.2,686.0L1218.1,691.8L1224.4,691.8L1219.3,695.4L1221.3,701.2L1216.2,697.6L1211.1,701.2L1213.0,695.4L1207.9,691.8L1214.2,691.8Z" fill="#fff" stroke="#0aa60a" stroke-width="1.20" stroke-linejoin="round"/><path d="M1216.2,686.0L1214.2,691.8L1207.9,691.8L1213.0,695.4L1211.1,701.2L1216.2,697.6L1216.6,697.4L1216.6,688.1Z" fill="#0aa60a" stroke="#0aa60a" stroke-width="1.20" stroke-linejoin="round"/>
<path d="M1236.3,686.9L1238.3,692.7L1244.6,692.7L1239.5,696.3L1241.4,702.1L1236.3,698.5L1231.2,702.1L1233.2,696.3L1228.1,692.7L1234.4,692.7Z" fill="#fff" stroke="#0aa60a" stroke-width="1.20" stroke-linejoin="round"/><path d="M1236.3,686.9L1234.4,692.7L1228.1,692.7L1233.2,696.3L1231.2,702.1L1236.3,698.5L1236.7,698.3L1236.7,689.0Z" fill="#0aa60a" stroke="#0aa60a" stroke-width="1.20" stroke-linejoin="round"/>
<path d="M1256.5,687.6L1258.4,693.4L1264.8,693.4L1259.6,696.9L1261.6,702.7L1256.5,699.1L1251.4,702.7L1253.4,696.9L1248.2,693.4L1254.6,693.4Z" fill="#fff" stroke="#0aa60a" stroke-width="1.20" stroke-linejoin="round"/><path d="M1256.5,687.6L1254.6,693.4L1248.2,693.4L1253.4,696.9L1251.4,702.7L1256.5,699.1L1256.9,699.0L1256.9,689.7Z" fill="#0aa60a" stroke="#0aa60a" stroke-width="1.20" stroke-linejoin="round"/>
<path d="M1276.7,688.7L1278.6,694.5L1284.9,694.5L1279.8,698.1L1281.8,703.9L1276.7,700.3L1271.5,703.9L1273.5,698.1L1268.4,694.5L1274.7,694.5Z" fill="#fff" stroke="#0aa60a" stroke-width="1.20" stroke-linejoin="round"/><path d="M1276.7,688.7L1274.7,694.5L1268.4,694.5L1273.5,698.1L1271.5,703.9L1276.7,700.3L1277.1,700.1L1277.1,690.8Z" fill="#0aa60a" stroke="#0aa60a" stroke-width="1.20" stroke-linejoin="round"/>
<path d="M1296.8,686.0L1298.8,691.8L1305.1,691.8L1300.0,695.4L1301.9,701.2L1296.8,697.6L1291.7,701.2L1293.7,695.4L1288.6,691.8L1294.9,691.8Z" fill="#fff" stroke="#0aa60a" stroke-width="1.20" stroke-linejoin="round"/><path d="M1296.8,686.0L1294.9,691.8L1288.6,691.8L1293.7,695.4L1291.7,701.2L1296.8,697.6L1297.2,697.4L1297.2,688.1Z" fill="#0aa60a" stroke="#0aa60a" stroke-width="1.20" stroke-linejoin="round"/>
<path d="M1317.0,687.6L1318.9,693.4L1325.3,693.4L1320.1,696.9L1322.1,702.7L1317.0,699.1L1311.9,702.7L1313.8,696.9L1308.7,693.4L1315.0,693.4Z" fill="#fff" stroke="#0aa60a" stroke-width="1.20" stroke-linejoin="round"/><path d="M1317.0,687.6L1315.0,693.4L1308.7,693.4L1313.8,696.9L1311.9,702.7L1317.0,699.1L1317.4,699.0L1317.4,689.7Z" fill="#0aa60a" stroke="#0aa60a" stroke-width="1.20" stroke-linejoin="round"/>
<path d="M1337.2,689.8L1339.1,695.6L1345.4,695.6L1340.3,699.2L1342.3,705.0L1337.2,701.4L1332.0,705.0L1334.0,699.2L1328.9,695.6L1335.2,695.6Z" fill="#fff" stroke="#0aa60a" stroke-width="1.20" stroke-linejoin="round"/><path d="M1337.2,689.8L1335.2,695.6L1328.9,695.6L1334.0,699.2L1332.0,705.0L1337.2,701.4L1337.6,701.2L1337.6,691.9Z" fill="#0aa60a" stroke="#0aa60a" stroke-width="1.20" stroke-linejoin="round"/>
<path d="M1357.3,686.0L1359.3,691.8L1365.6,691.8L1360.5,695.4L1362.4,701.2L1357.3,697.6L1352.2,701.2L1354.2,695.4L1349.0,691.8L1355.4,691.8Z" fill="#fff" stroke="#0aa60a" stroke-width="1.20" stroke-linejoin="round"/><path d="M1357.3,686.0L1355.4,691.8L1349.0,691.8L1354.2,695.4L1352.2,701.2L1357.3,697.6L1357.7,697.4L1357.7,688.1Z" fill="#0aa60a" stroke="#0aa60a" stroke-width="1.20" stroke-linejoin="round"/>
<path d="M1377.5,686.0L1379.4,691.8L1385.8,691.8L1380.6,695.4L1382.6,701.2L1377.5,697.6L1372.4,701.2L1374.3,695.4L1369.2,691.8L1375.5,691.8Z" fill="#fff" stroke="#0aa60a" stroke-width="1.20" stroke-linejoin="round"/><path d="M1377.5,686.0L1375.5,691.8L1369.2,691.8L1374.3,695.4L1372.4,701.2L1377.5,697.6L1377.9,697.4L1377.9,688.1Z" fill="#0aa60a" stroke="#0aa60a" stroke-width="1.20" stroke-linejoin="round"/>
<path d="M1397.6,683.0L1399.6,688.9L1405.9,688.8L1400.8,692.4L1402.8,698.2L1397.6,694.6L1392.5,698.2L1394.5,692.4L1389.4,688.8L1395.7,688.9Z" fill="#fff" stroke="#0aa60a" stroke-width="1.20" stroke-linejoin="round"/><path d="M1397.6,683.0L1395.7,688.9L1389.4,688.8L1394.5,692.4L1392.5,698.2L1397.6,694.6L1398.0,694.5L1398.0,685.1Z" fill="#0aa60a" stroke="#0aa60a" stroke-width="1.20" stroke-linejoin="round"/>
<path d="M1417.8,690.9L1419.7,696.8L1426.1,696.7L1420.9,700.3L1422.9,706.1L1417.8,702.5L1412.7,706.1L1414.7,700.3L1409.5,696.7L1415.9,696.8Z" fill="#fff" stroke="#0aa60a" stroke-width="1.20" stroke-linejoin="round"/><path d="M1417.8,690.9L1415.9,696.8L1409.5,696.7L1414.7,700.3L1412.7,706.1L1417.8,702.5L1418.2,702.4L1418.2,693.0Z" fill="#0aa60a" stroke="#0aa60a" stroke-width="1.20" stroke-linejoin="round"/>
<path d="M1438.0,686.9L1439.9,692.7L1446.2,692.7L1441.1,696.3L1443.1,702.1L1438.0,698.5L1432.9,702.1L1434.8,696.3L1429.7,692.7L1436.0,692.7Z" fill="#fff" stroke="#0aa60a" stroke-width="1.20" stroke-linejoin="round"/><path d="M1438.0,686.9L1436.0,692.7L1429.7,692.7L1434.8,696.3L1432.9,702.1L1438.0,698.5L1438.4,698.3L1438.4,689.0Z" fill="#0aa60a" stroke="#0aa60a" stroke-width="1.20" stroke-linejoin="round"/>
<path d="M1458.1,686.0L1460.1,691.8L1466.4,691.8L1461.3,695.4L1463.2,701.2L1458.1,697.6L1453.0,701.2L1455.0,695.4L1449.9,691.8L1456.2,691.8Z" fill="#fff" stroke="#0aa60a" stroke-width="1.20" stroke-linejoin="round"/><path d="M1458.1,686.0L1456.2,691.8L1449.9,691.8L1455.0,695.4L1453.0,701.2L1458.1,697.6L1458.5,697.4L1458.5,688.1Z" fill="#0aa60a" stroke="#0aa60a" stroke-width="1.20" stroke-linejoin="round"/>
<path d="M1478.3,686.4L1480.2,692.2L1486.6,692.2L1481.4,695.8L1483.4,701.6L1478.3,698.0L1473.2,701.6L1475.1,695.8L1470.0,692.2L1476.3,692.2Z" fill="#fff" stroke="#0aa60a" stroke-width="1.20" stroke-linejoin="round"/><path d="M1478.3,686.4L1476.3,692.2L1470.0,692.2L1475.1,695.8L1473.2,701.6L1478.3,698.0L1478.7,697.8L1478.7,688.5Z" fill="#0aa60a" stroke="#0aa60a" stroke-width="1.20" stroke-linejoin="round"/>
<path d="M1498.5,683.7L1500.4,689.5L1506.7,689.5L1501.6,693.1L1503.6,698.9L1498.5,695.3L1493.3,698.9L1495.3,693.1L1490.2,689.5L1496.5,689.5Z" fill="#fff" stroke="#0aa60a" stroke-width="1.20" stroke-linejoin="round"/><path d="M1498.5,683.7L1496.5,689.5L1490.2,689.5L1495.3,693.1L1493.3,698.9L1498.5,695.3L1498.9,695.1L1498.9,685.8Z" fill="#0aa60a" stroke="#0aa60a" stroke-width="1.20" stroke-linejoin="round"/>
<path d="M1518.6,686.0L1520.6,691.8L1526.9,691.8L1521.8,695.4L1523.7,701.2L1518.6,697.6L1513.5,701.2L1515.5,695.4L1510.3,691.8L1516.7,691.8Z" fill="#fff" stroke="#0aa60a" stroke-width="1.20" stroke-linejoin="round"/><path d="M1518.6,686.0L1516.7,691.8L1510.3,691.8L1515.5,695.4L1513.5,701.2L1518.6,697.6L1519.0,697.4L1519.0,688.1Z" fill="#0aa60a" stroke="#0aa60a" stroke-width="1.20" stroke-linejoin="round"/>
<path d="M873.4,962.7L875.3,968.6L881.7,968.5L876.5,972.1L878.5,977.9L873.4,974.3L868.3,977.9L870.3,972.1L865.1,968.5L871.5,968.6Z" fill="#fff" stroke="#ff0000" stroke-width="1.20" stroke-linejoin="round"/><path d="M873.4,962.7L871.5,968.6L865.1,968.5L870.3,972.1L868.3,977.9L873.4,974.3L873.8,974.2L873.8,964.8Z" fill="#ff0000" stroke="#ff0000" stroke-width="1.20" stroke-linejoin="round"/>
<path d="M893.6,960.5L895.5,966.3L901.8,966.3L896.7,969.9L898.7,975.7L893.6,972.1L888.4,975.7L890.4,969.9L885.3,966.3L891.6,966.3Z" fill="#fff" stroke="#ff0000" stroke-width="1.20" stroke-linejoin="round"/><path d="M893.6,960.5L891.6,966.3L885.3,966.3L890.4,969.9L888.4,975.7L893.6,972.1L894.0,971.9L894.0,962.6Z" fill="#ff0000" stroke="#ff0000" stroke-width="1.20" stroke-linejoin="round"/>
<path d="M913.7,959.1L915.7,964.9L922.0,964.9L916.9,968.5L918.8,974.3L913.7,970.7L908.6,974.3L910.6,968.5L905.5,964.9L911.8,964.9Z" fill="#fff" stroke="#ff0000" stroke-width="1.20" stroke-linejoin="round"/><path d="M913.7,959.1L911.8,964.9L905.5,964.9L910.6,968.5L908.6,974.3L913.7,970.7L914.1,970.6L914.1,961.2Z" fill="#ff0000" stroke="#ff0000" stroke-width="1.20" stroke-linejoin="round"/>
<path d="M933.9,959.1L935.8,964.9L942.2,964.9L937.0,968.5L939.0,974.3L933.9,970.7L928.8,974.3L930.7,968.5L925.6,964.9L931.9,964.9Z" fill="#fff" stroke="#ff0000" stroke-width="1.20" stroke-linejoin="round"/><path d="M933.9,959.1L931.9,964.9L925.6,964.9L930.7,968.5L928.8,974.3L933.9,970.7L934.3,970.6L934.3,961.2Z" fill="#ff0000" stroke="#ff0000" stroke-width="1.20" stroke-linejoin="round"/>
<path d="M954.1,962.1L956.0,967.9L962.3,967.9L957.2,971.5L959.2,977.3L954.1,973.7L948.9,977.3L950.9,971.5L945.8,967.9L952.1,967.9Z" fill="#fff" stroke="#ff0000" stroke-width="1.20" stroke-linejoin="round"/><path d="M954.1,962.1L952.1,967.9L945.8,967.9L950.9,971.5L948.9,977.3L954.1,973.7L954.5,973.5L954.5,964.2Z" fill="#ff0000" stroke="#ff0000" stroke-width="1.20" stroke-linejoin="round"/>
<path d="M974.2,959.1L976.2,964.9L982.5,964.9L977.4,968.5L979.3,974.3L974.2,970.7L969.1,974.3L971.1,968.5L965.9,964.9L972.3,964.9Z" fill="#fff" stroke="#ff0000" stroke-width="1.20" stroke-linejoin="round"/><path d="M974.2,959.1L972.3,964.9L965.9,964.9L971.1,968.5L969.1,974.3L974.2,970.7L974.6,970.6L974.6,961.2Z" fill="#ff0000" stroke="#ff0000" stroke-width="1.20" stroke-linejoin="round"/>
<path d="M994.4,963.6L996.3,969.5L1002.7,969.5L997.5,973.0L999.5,978.8L994.4,975.2L989.3,978.8L991.2,973.0L986.1,969.5L992.4,969.5Z" fill="#fff" stroke="#ff0000" stroke-width="1.20" stroke-linejoin="round"/><path d="M994.4,963.6L992.4,969.5L986.1,969.5L991.2,973.0L989.3,978.8L994.4,975.2L994.8,975.1L994.8,965.7Z" fill="#ff0000" stroke="#ff0000" stroke-width="1.20" stroke-linejoin="round"/>
<path d="M1014.5,963.2L1016.5,969.0L1022.8,969.0L1017.7,972.6L1019.7,978.4L1014.5,974.8L1009.4,978.4L1011.4,972.6L1006.3,969.0L1012.6,969.0Z" fill="#fff" stroke="#ff0000" stroke-width="1.20" stroke-linejoin="round"/><path d="M1014.5,963.2L1012.6,969.0L1006.3,969.0L1011.4,972.6L1009.4,978.4L1014.5,974.8L1014.9,974.6L1014.9,965.3Z" fill="#ff0000" stroke="#ff0000" stroke-width="1.20" stroke-linejoin="round"/>
<path d="M1034.7,959.1L1036.6,964.9L1043.0,964.9L1037.8,968.5L1039.8,974.3L1034.7,970.7L1029.6,974.3L1031.6,968.5L1026.4,964.9L1032.8,964.9Z" fill="#fff" stroke="#ff0000" stroke-width="1.20" stroke-linejoin="round"/><path d="M1034.7,959.1L1032.8,964.9L1026.4,964.9L1031.6,968.5L1029.6,974.3L1034.7,970.7L1035.1,970.6L1035.1,961.2Z" fill="#ff0000" stroke="#ff0000" stroke-width="1.20" stroke-linejoin="round"/>
<path d="M1054.9,962.1L1056.8,967.9L1063.1,967.9L1058.0,971.5L1060.0,977.3L1054.9,973.7L1049.8,977.3L1051.7,971.5L1046.6,967.9L1052.9,967.9Z" fill="#fff" stroke="#ff0000" stroke-width="1.20" stroke-linejoin="round"/><path d="M1054.9,962.1L1052.9,967.9L1046.6,967.9L1051.7,971.5L1049.8,977.3L1054.9,973.7L1055.3,973.5L1055.3,964.2Z" fill="#ff0000" stroke="#ff0000" stroke-width="1.20" stroke-linejoin="round"/>
<path d="M1075.0,959.1L1077.0,964.9L1083.3,964.9L1078.2,968.5L1080.1,974.3L1075.0,970.7L1069.9,974.3L1071.9,968.5L1066.8,964.9L1073.1,964.9Z" fill="#fff" stroke="#ff0000" stroke-width="1.20" stroke-linejoin="round"/><path d="M1075.0,959.1L1073.1,964.9L1066.8,964.9L1071.9,968.5L1069.9,974.3L1075.0,970.7L1075.4,970.6L1075.4,961.2Z" fill="#ff0000" stroke="#ff0000" stroke-width="1.20" stroke-linejoin="round"/>
<path d="M1095.2,959.1L1097.1,964.9L1103.5,964.9L1098.3,968.5L1100.3,974.3L1095.2,970.7L1090.1,974.3L1092.0,968.5L1086.9,964.9L1093.3,964.9Z" fill="#fff" stroke="#ff0000" stroke-width="1.20" stroke-linejoin="round"/><path d="M1095.2,959.1L1093.3,964.9L1086.9,964.9L1092.0,968.5L1090.1,974.3L1095.2,970.7L1095.6,970.6L1095.6,961.2Z" fill="#ff0000" stroke="#ff0000" stroke-width="1.20" stroke-linejoin="round"/>
<path d="M1115.4,960.9L1117.3,966.8L1123.6,966.7L1118.5,970.3L1120.5,976.1L1115.4,972.5L1110.2,976.1L1112.2,970.3L1107.1,966.7L1113.4,966.8Z" fill="#fff" stroke="#ff0000" stroke-width="1.20" stroke-linejoin="round"/><path d="M1115.4,960.9L1113.4,966.8L1107.1,966.7L1112.2,970.3L1110.2,976.1L1115.4,972.5L1115.8,972.4L1115.8,963.0Z" fill="#ff0000" stroke="#ff0000" stroke-width="1.20" stroke-linejoin="round"/>
<path d="M1135.5,962.1L1137.5,967.9L1143.8,967.9L1138.7,971.5L1140.6,977.3L1135.5,973.7L1130.4,977.3L1132.4,971.5L1127.2,967.9L1133.6,967.9Z" fill="#fff" stroke="#ff0000" stroke-width="1.20" stroke-linejoin="round"/><path d="M1135.5,962.1L1133.6,967.9L1127.2,967.9L1132.4,971.5L1130.4,977.3L1135.5,973.7L1135.9,973.5L1135.9,964.2Z" fill="#ff0000" stroke="#ff0000" stroke-width="1.20" stroke-linejoin="round"/>
<path d="M1155.7,963.2L1157.6,969.0L1164.0,969.0L1158.8,972.6L1160.8,978.4L1155.7,974.8L1150.6,978.4L1152.5,972.6L1147.4,969.0L1153.7,969.0Z" fill="#fff" stroke="#ff0000" stroke-width="1.20" stroke-linejoin="round"/><path d="M1155.7,963.2L1153.7,969.0L1147.4,969.0L1152.5,972.6L1150.6,978.4L1155.7,974.8L1156.1,974.6L1156.1,965.3Z" fill="#ff0000" stroke="#ff0000" stroke-width="1.20" stroke-linejoin="round"/>
<path d="M1175.8,960.5L1177.8,966.3L1184.1,966.3L1179.0,969.9L1181.0,975.7L1175.8,972.1L1170.7,975.7L1172.7,969.9L1167.6,966.3L1173.9,966.3Z" fill="#fff" stroke="#ff0000" stroke-width="1.20" stroke-linejoin="round"/><path d="M1175.8,960.5L1173.9,966.3L1167.6,966.3L1172.7,969.9L1170.7,975.7L1175.8,972.1L1176.2,971.9L1176.2,962.6Z" fill="#ff0000" stroke="#ff0000" stroke-width="1.20" stroke-linejoin="round"/>
<path d="M1196.0,963.2L1198.0,969.0L1204.3,969.0L1199.2,972.6L1201.1,978.4L1196.0,974.8L1190.9,978.4L1192.9,972.6L1187.7,969.0L1194.1,969.0Z" fill="#fff" stroke="#ff0000" stroke-width="1.20" stroke-linejoin="round"/><path d="M1196.0,963.2L1194.1,969.0L1187.7,969.0L1192.9,972.6L1190.9,978.4L1196.0,974.8L1196.4,974.6L1196.4,965.3Z" fill="#ff0000" stroke="#ff0000" stroke-width="1.20" stroke-linejoin="round"/>
<path d="M1216.2,964.3L1218.1,970.1L1224.4,970.1L1219.3,973.7L1221.3,979.5L1216.2,975.9L1211.1,979.5L1213.0,973.7L1207.9,970.1L1214.2,970.1Z" fill="#fff" stroke="#ff0000" stroke-width="1.20" stroke-linejoin="round"/><path d="M1216.2,964.3L1214.2,970.1L1207.9,970.1L1213.0,973.7L1211.1,979.5L1216.2,975.9L1216.6,975.7L1216.6,966.4Z" fill="#ff0000" stroke="#ff0000" stroke-width="1.20" stroke-linejoin="round"/>
<path d="M1236.3,961.4L1238.3,967.2L1244.6,967.2L1239.5,970.8L1241.4,976.6L1236.3,973.0L1231.2,976.6L1233.2,970.8L1228.1,967.2L1234.4,967.2Z" fill="#fff" stroke="#ff0000" stroke-width="1.20" stroke-linejoin="round"/><path d="M1236.3,961.4L1234.4,967.2L1228.1,967.2L1233.2,970.8L1231.2,976.6L1236.3,973.0L1236.7,972.8L1236.7,963.5Z" fill="#ff0000" stroke="#ff0000" stroke-width="1.20" stroke-linejoin="round"/>
<path d="M1256.5,963.2L1258.4,969.0L1264.8,969.0L1259.6,972.6L1261.6,978.4L1256.5,974.8L1251.4,978.4L1253.4,972.6L1248.2,969.0L1254.6,969.0Z" fill="#fff" stroke="#ff0000" stroke-width="1.20" stroke-linejoin="round"/><path d="M1256.5,963.2L1254.6,969.0L1248.2,969.0L1253.4,972.6L1251.4,978.4L1256.5,974.8L1256.9,974.6L1256.9,965.3Z" fill="#ff0000" stroke="#ff0000" stroke-width="1.20" stroke-linejoin="round"/>
<path d="M1276.7,963.2L1278.6,969.0L1284.9,969.0L1279.8,972.6L1281.8,978.4L1276.7,974.8L1271.5,978.4L1273.5,972.6L1268.4,969.0L1274.7,969.0Z" fill="#fff" stroke="#ff0000" stroke-width="1.20" stroke-linejoin="round"/><path d="M1276.7,963.2L1274.7,969.0L1268.4,969.0L1273.5,972.6L1271.5,978.4L1276.7,974.8L1277.1,974.6L1277.1,965.3Z" fill="#ff0000" stroke="#ff0000" stroke-width="1.20" stroke-linejoin="round"/>
<path d="M1296.8,965.0L1298.8,970.8L1305.1,970.8L1300.0,974.4L1301.9,980.2L1296.8,976.6L1291.7,980.2L1293.7,974.4L1288.6,970.8L1294.9,970.8Z" fill="#fff" stroke="#ff0000" stroke-width="1.20" stroke-linejoin="round"/><path d="M1296.8,965.0L1294.9,970.8L1288.6,970.8L1293.7,974.4L1291.7,980.2L1296.8,976.6L1297.2,976.4L1297.2,967.1Z" fill="#ff0000" stroke="#ff0000" stroke-width="1.20" stroke-linejoin="round"/>
<path d="M1317.0,965.0L1318.9,970.8L1325.3,970.8L1320.1,974.4L1322.1,980.2L1317.0,976.6L1311.9,980.2L1313.8,974.4L1308.7,970.8L1315.0,970.8Z" fill="#fff" stroke="#ff0000" stroke-width="1.20" stroke-linejoin="round"/><path d="M1317.0,965.0L1315.0,970.8L1308.7,970.8L1313.8,974.4L1311.9,980.2L1317.0,976.6L1317.4,976.4L1317.4,967.1Z" fill="#ff0000" stroke="#ff0000" stroke-width="1.20" stroke-linejoin="round"/>
<path d="M1337.2,962.1L1339.1,967.9L1345.4,967.9L1340.3,971.5L1342.3,977.3L1337.2,973.7L1332.0,977.3L1334.0,971.5L1328.9,967.9L1335.2,967.9Z" fill="#fff" stroke="#ff0000" stroke-width="1.20" stroke-linejoin="round"/><path d="M1337.2,962.1L1335.2,967.9L1328.9,967.9L1334.0,971.5L1332.0,977.3L1337.2,973.7L1337.6,973.5L1337.6,964.2Z" fill="#ff0000" stroke="#ff0000" stroke-width="1.20" stroke-linejoin="round"/>
<path d="M1357.3,963.6L1359.3,969.5L1365.6,969.5L1360.5,973.0L1362.4,978.8L1357.3,975.2L1352.2,978.8L1354.2,973.0L1349.0,969.5L1355.4,969.5Z" fill="#fff" stroke="#ff0000" stroke-width="1.20" stroke-linejoin="round"/><path d="M1357.3,963.6L1355.4,969.5L1349.0,969.5L1354.2,973.0L1352.2,978.8L1357.3,975.2L1357.7,975.1L1357.7,965.7Z" fill="#ff0000" stroke="#ff0000" stroke-width="1.20" stroke-linejoin="round"/>
<path d="M1377.5,965.0L1379.4,970.8L1385.8,970.8L1380.6,974.4L1382.6,980.2L1377.5,976.6L1372.4,980.2L1374.3,974.4L1369.2,970.8L1375.5,970.8Z" fill="#fff" stroke="#ff0000" stroke-width="1.20" stroke-linejoin="round"/><path d="M1377.5,965.0L1375.5,970.8L1369.2,970.8L1374.3,974.4L1372.4,980.2L1377.5,976.6L1377.9,976.4L1377.9,967.1Z" fill="#ff0000" stroke="#ff0000" stroke-width="1.20" stroke-linejoin="round"/>
<path d="M1397.6,965.9L1399.6,971.7L1405.9,971.7L1400.8,975.3L1402.8,981.1L1397.6,977.5L1392.5,981.1L1394.5,975.3L1389.4,971.7L1395.7,971.7Z" fill="#fff" stroke="#ff0000" stroke-width="1.20" stroke-linejoin="round"/><path d="M1397.6,965.9L1395.7,971.7L1389.4,971.7L1394.5,975.3L1392.5,981.1L1397.6,977.5L1398.0,977.3L1398.0,968.0Z" fill="#ff0000" stroke="#ff0000" stroke-width="1.20" stroke-linejoin="round"/>
<path d="M1417.8,963.2L1419.7,969.0L1426.1,969.0L1420.9,972.6L1422.9,978.4L1417.8,974.8L1412.7,978.4L1414.7,972.6L1409.5,969.0L1415.9,969.0Z" fill="#fff" stroke="#ff0000" stroke-width="1.20" stroke-linejoin="round"/><path d="M1417.8,963.2L1415.9,969.0L1409.5,969.0L1414.7,972.6L1412.7,978.4L1417.8,974.8L1418.2,974.6L1418.2,965.3Z" fill="#ff0000" stroke="#ff0000" stroke-width="1.20" stroke-linejoin="round"/>
<path d="M1438.0,963.2L1439.9,969.0L1446.2,969.0L1441.1,972.6L1443.1,978.4L1438.0,974.8L1432.9,978.4L1434.8,972.6L1429.7,969.0L1436.0,969.0Z" fill="#fff" stroke="#ff0000" stroke-width="1.20" stroke-linejoin="round"/><path d="M1438.0,963.2L1436.0,969.0L1429.7,969.0L1434.8,972.6L1432.9,978.4L1438.0,974.8L1438.4,974.6L1438.4,965.3Z" fill="#ff0000" stroke="#ff0000" stroke-width="1.20" stroke-linejoin="round"/>
<path d="M1458.1,965.5L1460.1,971.3L1466.4,971.3L1461.3,974.8L1463.2,980.7L1458.1,977.0L1453.0,980.7L1455.0,974.8L1449.9,971.3L1456.2,971.3Z" fill="#fff" stroke="#ff0000" stroke-width="1.20" stroke-linejoin="round"/><path d="M1458.1,965.5L1456.2,971.3L1449.9,971.3L1455.0,974.8L1453.0,980.7L1458.1,977.0L1458.5,976.9L1458.5,967.6Z" fill="#ff0000" stroke="#ff0000" stroke-width="1.20" stroke-linejoin="round"/>
<path d="M1478.3,963.2L1480.2,969.0L1486.6,969.0L1481.4,972.6L1483.4,978.4L1478.3,974.8L1473.2,978.4L1475.1,972.6L1470.0,969.0L1476.3,969.0Z" fill="#fff" stroke="#ff0000" stroke-width="1.20" stroke-linejoin="round"/><path d="M1478.3,963.2L1476.3,969.0L1470.0,969.0L1475.1,972.6L1473.2,978.4L1478.3,974.8L1478.7,974.6L1478.7,965.3Z" fill="#ff0000" stroke="#ff0000" stroke-width="1.20" stroke-linejoin="round"/>
<path d="M1498.5,965.9L1500.4,971.7L1506.7,971.7L1501.6,975.3L1503.6,981.1L1498.5,977.5L1493.3,981.1L1495.3,975.3L1490.2,971.7L1496.5,971.7Z" fill="#fff" stroke="#ff0000" stroke-width="1.20" stroke-linejoin="round"/><path d="M1498.5,965.9L1496.5,971.7L1490.2,971.7L1495.3,975.3L1493.3,981.1L1498.5,977.5L1498.9,977.3L1498.9,968.0Z" fill="#ff0000" stroke="#ff0000" stroke-width="1.20" stroke-linejoin="round"/>
<path d="M1518.6,965.9L1520.6,971.7L1526.9,971.7L1521.8,975.3L1523.7,981.1L1518.6,977.5L1513.5,981.1L1515.5,975.3L1510.3,971.7L1516.7,971.7Z" fill="#fff" stroke="#ff0000" stroke-width="1.20" stroke-linejoin="round"/><path d="M1518.6,965.9L1516.7,971.7L1510.3,971.7L1515.5,975.3L1513.5,981.1L1518.6,977.5L1519.0,977.3L1519.0,968.0Z" fill="#ff0000" stroke="#ff0000" stroke-width="1.20" stroke-linejoin="round"/>
</g>
<text transform="translate(818.89 1190.90) scale(0.9550 1)" font-size="35.72" fill="#42085c" stroke="#42085c" stroke-width="0.20" letter-spacing="0.436">20</text>
<text transform="translate(819.32 1072.65) scale(0.9550 1)" font-size="35.72" fill="#42085c" stroke="#42085c" stroke-width="0.20" letter-spacing="-0.010">30</text>
<text transform="translate(819.84 954.80) scale(0.9411 1)" font-size="35.72" fill="#42085c" stroke="#42085c" stroke-width="0.20">40</text>
<text transform="translate(819.24 836.95) scale(0.9550 1)" font-size="35.72" fill="#42085c" stroke="#42085c" stroke-width="0.20" letter-spacing="0.079">50</text>
<text transform="translate(818.89 719.10) scale(0.9550 1)" font-size="35.72" fill="#42085c" stroke="#42085c" stroke-width="0.20" letter-spacing="0.436">60</text>
<text transform="translate(864.29 1225.00) scale(0.8553 1)" font-size="36.97" fill="#42085c" stroke="#42085c" stroke-width="0.20">0</text>
<text transform="translate(956.03 1225.00) scale(0.8697 1)" font-size="36.97" fill="#42085c" stroke="#42085c" stroke-width="0.20">50</text>
<text transform="translate(1046.74 1225.00) scale(0.8800 1)" font-size="36.97" fill="#42085c" stroke="#42085c" stroke-width="0.20" letter-spacing="0.287">100</text>
<text transform="translate(1147.56 1225.00) scale(0.8800 1)" font-size="36.97" fill="#42085c" stroke="#42085c" stroke-width="0.20" letter-spacing="0.287">150</text>
<text transform="translate(1249.19 1225.00) scale(0.8747 1)" font-size="36.97" fill="#42085c" stroke="#42085c" stroke-width="0.20">200</text>
<text transform="translate(1350.01 1225.00) scale(0.8747 1)" font-size="36.97" fill="#42085c" stroke="#42085c" stroke-width="0.20">250</text>
<text transform="translate(1451.24 1225.00) scale(0.8679 1)" font-size="36.97" fill="#42085c" stroke="#42085c" stroke-width="0.20">300</text>
<text transform="translate(803.90 1152.74) rotate(-90) scale(0.9755 1.0000)" font-size="34.37" fill="#42004f" stroke="#42004f" stroke-width="0.20" font-weight="bold">Atomic % Silicon and Oxygen</text>
<text transform="translate(1084.50 682.40) scale(0.8800 1)" font-size="31.87" fill="#000000" stroke="#000000" stroke-width="0.20" font-weight="bold" letter-spacing="2.954">Atomic % Profile</text>
<text transform="translate(1082.30 1254.30) scale(0.9900 1)" font-size="33.02" fill="#42085c" stroke="#42085c" stroke-width="0.20">Etch Depth (nm)</text>
<text transform="translate(970.01 746.60)" font-size="35.41" fill="#000000" stroke="#000000" stroke-width="0.20" letter-spacing="0.411">SRO</text>
<text transform="translate(1049.52 762.00)" font-size="22.39" fill="#000000" stroke="#000000" stroke-width="0.20" letter-spacing="0.390">100</text>
<text transform="translate(1096.80 746.60)" font-size="35.41" fill="#000000" stroke="#000000" stroke-width="0.20" letter-spacing="1.474">T-A Oxygen</text>
<text transform="translate(972.28 1033.50)" font-size="35.93" fill="#000000" stroke="#000000" stroke-width="0.20" letter-spacing="1.071">SRO</text>
<text transform="translate(1052.82 1049.00)" font-size="22.39" fill="#000000" stroke="#000000" stroke-width="0.20" letter-spacing="0.040">100</text>
<text transform="translate(1099.79 1033.50)" font-size="35.93" fill="#000000" stroke="#000000" stroke-width="0.20" letter-spacing="0.866">T-A Silicon</text>
<text transform="translate(879.88 1123.90)" font-size="35.41" fill="#15480f" stroke="#15480f" stroke-width="0.20" font-weight="bold" letter-spacing="1.926">Oxygen Deficiency -5.0 %</text>
<text transform="translate(879.24 1166.80)" font-size="35.41" fill="#8a0404" stroke="#8a0404" stroke-width="0.20" font-weight="bold" letter-spacing="1.852">Silicon Excess 5.0 %</text>
<text transform="translate(1456.82 1160.80)" font-size="60.41" fill="#000000" stroke="#000000" stroke-width="0.20" letter-spacing="1.000">(d)</text>
<path d="M918.6,726.2L920.5,732.0L926.6,732.0L921.6,735.6L923.5,741.4L918.6,737.8L913.7,741.4L915.6,735.6L910.6,732.0L916.7,732.0Z" fill="#fff" stroke="#0aa60a" stroke-width="1.20" stroke-linejoin="round"/><path d="M918.6,726.2L916.7,732.0L910.6,732.0L915.6,735.6L913.7,741.4L918.6,737.8L919.0,737.6L919.0,728.3Z" fill="#0aa60a" stroke="#0aa60a" stroke-width="1.20" stroke-linejoin="round"/>
<path d="M921.6,1013.0L923.5,1018.8L929.6,1018.8L924.6,1022.4L926.5,1028.2L921.6,1024.6L916.7,1028.2L918.6,1022.4L913.6,1018.8L919.7,1018.8Z" fill="#fff" stroke="#ff0000" stroke-width="1.20" stroke-linejoin="round"/><path d="M921.6,1013.0L919.7,1018.8L913.6,1018.8L918.6,1022.4L916.7,1028.2L921.6,1024.6L922.0,1024.4L922.0,1015.1Z" fill="#ff0000" stroke="#ff0000" stroke-width="1.20" stroke-linejoin="round"/>
</g>
</g>
</svg>
</body></html>
